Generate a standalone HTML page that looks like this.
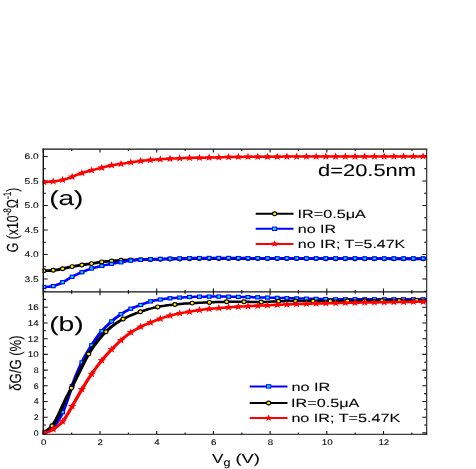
<!DOCTYPE html>
<html><head><meta charset="utf-8"><title>chart</title>
<style>html,body{margin:0;padding:0;background:#fff}body{width:476px;height:469px;overflow:hidden;font-family:"Liberation Sans",sans-serif}</style></head>
<body>
<svg width="476" height="469" viewBox="0 0 476 469" style="display:block">
<rect width="476" height="469" fill="#fff"/>
<defs><clipPath id="ca"><rect x="42.5" y="149.2" width="385.0" height="142.60000000000002"/></clipPath><clipPath id="cb"><rect x="42.5" y="291.8" width="385.0" height="143.0"/></clipPath></defs>
<path d="M43.3,149.2V152.6M43.3,288.4V295.2M43.3,430.9V434.3M71.7,149.2V151.1M71.7,289.9V293.7M71.7,432.4V434.3M100.0,149.2V152.6M100.0,288.4V295.2M100.0,430.9V434.3M128.4,149.2V151.1M128.4,289.9V293.7M128.4,432.4V434.3M156.7,149.2V152.6M156.7,288.4V295.2M156.7,430.9V434.3M185.1,149.2V151.1M185.1,289.9V293.7M185.1,432.4V434.3M213.4,149.2V152.6M213.4,288.4V295.2M213.4,430.9V434.3M241.8,149.2V151.1M241.8,289.9V293.7M241.8,432.4V434.3M270.1,149.2V152.6M270.1,288.4V295.2M270.1,430.9V434.3M298.4,149.2V151.1M298.4,289.9V293.7M298.4,432.4V434.3M326.8,149.2V152.6M326.8,288.4V295.2M326.8,430.9V434.3M355.2,149.2V151.1M355.2,289.9V293.7M355.2,432.4V434.3M383.5,149.2V152.6M383.5,288.4V295.2M383.5,430.9V434.3M411.9,149.2V151.1M411.9,289.9V293.7M411.9,432.4V434.3M43.3,291.2H45.9M424.1,291.2H426.7M43.3,279.0H47.7M422.3,279.0H426.7M43.3,266.8H45.9M424.1,266.8H426.7M43.3,254.5H47.7M422.3,254.5H426.7M43.3,242.2H45.9M424.1,242.2H426.7M43.3,230.0H47.7M422.3,230.0H426.7M43.3,217.8H45.9M424.1,217.8H426.7M43.3,205.5H47.7M422.3,205.5H426.7M43.3,193.2H45.9M424.1,193.2H426.7M43.3,181.0H47.7M422.3,181.0H426.7M43.3,168.8H45.9M424.1,168.8H426.7M43.3,156.5H47.7M422.3,156.5H426.7M43.3,432.9H47.7M422.3,432.9H426.7M43.3,425.0H45.9M424.1,425.0H426.7M43.3,417.2H47.7M422.3,417.2H426.7M43.3,409.3H45.9M424.1,409.3H426.7M43.3,401.5H47.7M422.3,401.5H426.7M43.3,393.6H45.9M424.1,393.6H426.7M43.3,385.8H47.7M422.3,385.8H426.7M43.3,377.9H45.9M424.1,377.9H426.7M43.3,370.1H47.7M422.3,370.1H426.7M43.3,362.2H45.9M424.1,362.2H426.7M43.3,354.4H47.7M422.3,354.4H426.7M43.3,346.5H45.9M424.1,346.5H426.7M43.3,338.7H47.7M422.3,338.7H426.7M43.3,330.8H45.9M424.1,330.8H426.7M43.3,323.0H47.7M422.3,323.0H426.7M43.3,315.1H45.9M424.1,315.1H426.7M43.3,307.3H47.7M422.3,307.3H426.7M43.3,299.4H45.9M424.1,299.4H426.7" stroke="#111" stroke-width="1.1" fill="none"/>
<g clip-path="url(#ca)">
<path transform="scale(1.4,1)" d="M30.93,270.8 L31.64,270.8 L32.36,270.8 L33.07,270.7 L33.79,270.7 L34.50,270.7 L35.21,270.6 L35.93,270.5 L36.64,270.5 L37.36,270.4 L38.07,270.3 L38.79,270.2 L39.50,270.1 L40.21,269.9 L40.93,269.8 L41.64,269.6 L42.36,269.4 L43.07,269.2 L43.79,269.0 L44.50,268.8 L45.21,268.6 L45.93,268.3 L46.64,268.1 L47.36,267.9 L48.07,267.7 L48.79,267.4 L49.50,267.2 L50.21,267.0 L50.93,266.8 L51.64,266.6 L52.36,266.4 L53.07,266.2 L53.79,266.1 L54.50,265.9 L55.21,265.7 L55.93,265.6 L56.64,265.4 L57.36,265.3 L58.07,265.1 L58.79,265.0 L59.50,264.8 L60.21,264.7 L60.93,264.5 L61.64,264.4 L62.36,264.2 L63.07,264.1 L63.79,264.0 L64.50,263.8 L65.21,263.7 L65.93,263.5 L66.64,263.3 L67.36,263.2 L68.07,263.0 L68.79,262.8 L69.50,262.6 L70.21,262.4 L70.93,262.3 L71.64,262.1 L72.36,262.0 L73.07,261.8 L73.79,261.7 L74.50,261.6 L75.21,261.5 L75.93,261.4 L76.64,261.3 L77.36,261.3 L78.07,261.2 L78.79,261.1 L79.50,261.0 L80.21,261.0 L80.93,260.9 L81.64,260.8 L82.36,260.7 L83.07,260.7 L83.79,260.6 L84.50,260.5 L85.21,260.4 L85.93,260.4 L86.64,260.3 L87.36,260.3 L88.07,260.2 L88.79,260.2 L89.50,260.1 L90.21,260.1 L90.93,260.1 L91.64,260.0 L92.36,260.0 L93.07,259.9 L93.79,259.9 L94.50,259.9 L95.21,259.8 L95.93,259.8 L96.64,259.8 L97.36,259.7 L98.07,259.7 L98.79,259.7 L99.50,259.7 L100.21,259.6 L100.93,259.6 L101.64,259.6 L102.36,259.5 L103.07,259.5 L103.79,259.5 L104.50,259.5 L105.21,259.5 L105.93,259.4 L106.64,259.4 L107.36,259.4 L108.07,259.4 L108.79,259.4 L109.50,259.3 L110.21,259.3 L110.93,259.3 L111.64,259.3 L112.36,259.3 L113.07,259.3 L113.79,259.2 L114.50,259.2 L115.21,259.2 L115.93,259.2 L116.64,259.2 L117.36,259.2 L118.07,259.1 L118.79,259.1 L119.50,259.1 L120.21,259.1 L120.93,259.1 L121.64,259.0 L122.36,259.0 L123.07,259.0 L123.79,259.0 L124.50,259.0 L125.21,258.9 L125.93,258.9 L126.64,258.9 L127.36,258.9 L128.07,258.9 L128.79,258.8 L129.50,258.8 L130.21,258.8 L130.93,258.8 L131.64,258.8 L132.36,258.8 L133.07,258.7 L133.79,258.7 L134.50,258.7 L135.21,258.7 L135.93,258.7 L136.64,258.7 L137.36,258.6 L138.07,258.6 L138.79,258.6 L139.50,258.6 L140.21,258.6 L140.93,258.6 L141.64,258.6 L142.36,258.6 L143.07,258.5 L143.79,258.5 L144.50,258.5 L145.21,258.5 L145.93,258.5 L146.64,258.5 L147.36,258.5 L148.07,258.5 L148.79,258.5 L149.50,258.5 L150.21,258.5 L150.93,258.5 L151.64,258.5 L152.36,258.5 L153.07,258.5 L153.79,258.5 L154.50,258.5 L155.21,258.5 L155.93,258.5 L156.64,258.5 L157.36,258.5 L158.07,258.5 L158.79,258.5 L159.50,258.5 L160.21,258.5 L160.93,258.5 L161.64,258.5 L162.36,258.5 L163.07,258.5 L163.79,258.5 L164.50,258.5 L165.21,258.5 L165.93,258.5 L166.64,258.5 L167.36,258.5 L168.07,258.5 L168.79,258.5 L169.50,258.5 L170.21,258.5 L170.93,258.5 L171.64,258.5 L172.36,258.5 L173.07,258.5 L173.79,258.5 L174.50,258.5 L175.21,258.5 L175.93,258.5 L176.64,258.5 L177.36,258.5 L178.07,258.5 L178.79,258.5 L179.50,258.6 L180.21,258.6 L180.93,258.6 L181.64,258.6 L182.36,258.6 L183.07,258.6 L183.79,258.6 L184.50,258.6 L185.21,258.6 L185.93,258.6 L186.64,258.6 L187.36,258.6 L188.07,258.6 L188.79,258.6 L189.50,258.6 L190.21,258.6 L190.93,258.6 L191.64,258.6 L192.36,258.6 L193.07,258.6 L193.79,258.6 L194.50,258.6 L195.21,258.6 L195.93,258.6 L196.64,258.6 L197.36,258.6 L198.07,258.6 L198.79,258.6 L199.50,258.6 L200.21,258.6 L200.93,258.6 L201.64,258.6 L202.36,258.6 L203.07,258.6 L203.79,258.6 L204.50,258.6 L205.21,258.6 L205.93,258.6 L206.64,258.6 L207.36,258.6 L208.07,258.6 L208.79,258.6 L209.50,258.6 L210.21,258.6 L210.93,258.6 L211.64,258.6 L212.36,258.6 L213.07,258.6 L213.79,258.6 L214.50,258.6 L215.21,258.6 L215.93,258.6 L216.64,258.6 L217.36,258.6 L218.07,258.6 L218.79,258.6 L219.50,258.6 L220.21,258.6 L220.93,258.6 L221.64,258.6 L222.36,258.6 L223.07,258.6 L223.79,258.6 L224.50,258.6 L225.21,258.6 L225.93,258.7 L226.64,258.7 L227.36,258.7 L228.07,258.7 L228.79,258.7 L229.50,258.7 L230.21,258.7 L230.93,258.7 L231.64,258.7 L232.36,258.7 L233.07,258.7 L233.79,258.7 L234.50,258.7 L235.21,258.7 L235.93,258.7 L236.64,258.7 L237.36,258.7 L238.07,258.7 L238.79,258.7 L239.50,258.7 L240.21,258.7 L240.93,258.7 L241.64,258.7 L242.36,258.7 L243.07,258.7 L243.79,258.7 L244.50,258.7 L245.21,258.7 L245.93,258.7 L246.64,258.7 L247.36,258.7 L248.07,258.7 L248.79,258.7 L249.50,258.7 L250.21,258.7 L250.93,258.7 L251.64,258.7 L252.36,258.7 L253.07,258.7 L253.79,258.7 L254.50,258.7 L255.21,258.7 L255.93,258.7 L256.64,258.7 L257.36,258.7 L258.07,258.7 L258.79,258.7 L259.50,258.7 L260.21,258.7 L260.93,258.7 L261.64,258.7 L262.36,258.7 L263.07,258.7 L263.79,258.7 L264.50,258.7 L265.21,258.7 L265.93,258.7 L266.64,258.7 L267.36,258.7 L268.07,258.7 L268.79,258.7 L269.50,258.7 L270.21,258.7 L270.93,258.7 L271.64,258.7 L272.36,258.7 L273.07,258.7 L273.79,258.7 L274.50,258.7 L275.21,258.7 L275.93,258.7 L276.64,258.7 L277.36,258.7 L278.07,258.7 L278.79,258.8 L279.50,258.8 L280.21,258.8 L280.93,258.8 L281.64,258.8 L282.36,258.8 L283.07,258.8 L283.79,258.8 L284.50,258.8 L285.21,258.8 L285.93,258.8 L286.64,258.8 L287.36,258.8 L288.07,258.8 L288.79,258.8 L289.50,258.8 L290.21,258.8 L290.93,258.8 L291.64,258.8 L292.36,258.8 L293.07,258.8 L293.79,258.8 L294.50,258.8 L295.21,258.8 L295.93,258.8 L296.64,258.8 L297.36,258.8 L298.07,258.8 L298.79,258.8 L299.50,258.8 L300.21,258.8 L300.93,258.8 L301.64,258.8 L302.36,258.8 L303.07,258.8 L303.79,258.8 L304.50,258.8 L304.86,258.8" fill="none" stroke="#000" stroke-width="2.8" stroke-linejoin="round"/>
<ellipse cx="43.8" cy="270.8" rx="2.1" ry="1.9" fill="#ffee00" stroke="#000" stroke-width="1.15"/>
<ellipse cx="53.2" cy="270.3" rx="2.1" ry="1.9" fill="#ffee00" stroke="#000" stroke-width="1.15"/>
<ellipse cx="62.6" cy="268.7" rx="2.1" ry="1.9" fill="#ffee00" stroke="#000" stroke-width="1.15"/>
<ellipse cx="72.1" cy="266.6" rx="2.1" ry="1.9" fill="#ffee00" stroke="#000" stroke-width="1.15"/>
<ellipse cx="81.9" cy="265.0" rx="2.1" ry="1.9" fill="#ffee00" stroke="#000" stroke-width="1.15"/>
<ellipse cx="91.6" cy="263.6" rx="2.1" ry="1.9" fill="#ffee00" stroke="#000" stroke-width="1.15"/>
<ellipse cx="101.8" cy="261.9" rx="2.1" ry="1.9" fill="#ffee00" stroke="#000" stroke-width="1.15"/>
<ellipse cx="111.6" cy="261.0" rx="2.1" ry="1.9" fill="#ffee00" stroke="#000" stroke-width="1.15"/>
<ellipse cx="121.0" cy="260.3" rx="2.1" ry="1.9" fill="#ffee00" stroke="#000" stroke-width="1.15"/>
<ellipse cx="130.8" cy="259.9" rx="2.1" ry="1.9" fill="#ffee00" stroke="#000" stroke-width="1.15"/>
<ellipse cx="140.7" cy="259.6" rx="2.1" ry="1.9" fill="#ffee00" stroke="#000" stroke-width="1.15"/>
<ellipse cx="150.5" cy="259.4" rx="2.1" ry="1.9" fill="#ffee00" stroke="#000" stroke-width="1.15"/>
<ellipse cx="160.3" cy="259.2" rx="2.1" ry="1.9" fill="#ffee00" stroke="#000" stroke-width="1.15"/>
<ellipse cx="170.0" cy="259.0" rx="2.1" ry="1.9" fill="#ffee00" stroke="#000" stroke-width="1.15"/>
<ellipse cx="179.7" cy="258.9" rx="2.1" ry="1.9" fill="#ffee00" stroke="#000" stroke-width="1.15"/>
<ellipse cx="189.5" cy="258.7" rx="2.1" ry="1.9" fill="#ffee00" stroke="#000" stroke-width="1.15"/>
<ellipse cx="199.4" cy="258.6" rx="2.1" ry="1.9" fill="#ffee00" stroke="#000" stroke-width="1.15"/>
<ellipse cx="209.1" cy="258.5" rx="2.1" ry="1.9" fill="#ffee00" stroke="#000" stroke-width="1.15"/>
<ellipse cx="218.8" cy="258.5" rx="2.1" ry="1.9" fill="#ffee00" stroke="#000" stroke-width="1.15"/>
<ellipse cx="228.6" cy="258.5" rx="2.1" ry="1.9" fill="#ffee00" stroke="#000" stroke-width="1.15"/>
<ellipse cx="238.3" cy="258.5" rx="2.1" ry="1.9" fill="#ffee00" stroke="#000" stroke-width="1.15"/>
<ellipse cx="248.0" cy="258.5" rx="2.1" ry="1.9" fill="#ffee00" stroke="#000" stroke-width="1.15"/>
<ellipse cx="257.8" cy="258.6" rx="2.1" ry="1.9" fill="#ffee00" stroke="#000" stroke-width="1.15"/>
<ellipse cx="267.5" cy="258.6" rx="2.1" ry="1.9" fill="#ffee00" stroke="#000" stroke-width="1.15"/>
<ellipse cx="277.2" cy="258.6" rx="2.1" ry="1.9" fill="#ffee00" stroke="#000" stroke-width="1.15"/>
<ellipse cx="286.9" cy="258.6" rx="2.1" ry="1.9" fill="#ffee00" stroke="#000" stroke-width="1.15"/>
<ellipse cx="296.6" cy="258.6" rx="2.1" ry="1.9" fill="#ffee00" stroke="#000" stroke-width="1.15"/>
<ellipse cx="306.4" cy="258.6" rx="2.1" ry="1.9" fill="#ffee00" stroke="#000" stroke-width="1.15"/>
<ellipse cx="316.1" cy="258.6" rx="2.1" ry="1.9" fill="#ffee00" stroke="#000" stroke-width="1.15"/>
<ellipse cx="325.8" cy="258.7" rx="2.1" ry="1.9" fill="#ffee00" stroke="#000" stroke-width="1.15"/>
<ellipse cx="335.6" cy="258.7" rx="2.1" ry="1.9" fill="#ffee00" stroke="#000" stroke-width="1.15"/>
<ellipse cx="345.3" cy="258.7" rx="2.1" ry="1.9" fill="#ffee00" stroke="#000" stroke-width="1.15"/>
<ellipse cx="355.0" cy="258.7" rx="2.1" ry="1.9" fill="#ffee00" stroke="#000" stroke-width="1.15"/>
<ellipse cx="364.7" cy="258.7" rx="2.1" ry="1.9" fill="#ffee00" stroke="#000" stroke-width="1.15"/>
<ellipse cx="374.4" cy="258.7" rx="2.1" ry="1.9" fill="#ffee00" stroke="#000" stroke-width="1.15"/>
<ellipse cx="384.2" cy="258.7" rx="2.1" ry="1.9" fill="#ffee00" stroke="#000" stroke-width="1.15"/>
<ellipse cx="393.9" cy="258.8" rx="2.1" ry="1.9" fill="#ffee00" stroke="#000" stroke-width="1.15"/>
<ellipse cx="403.6" cy="258.8" rx="2.1" ry="1.9" fill="#ffee00" stroke="#000" stroke-width="1.15"/>
<ellipse cx="413.4" cy="258.8" rx="2.1" ry="1.9" fill="#ffee00" stroke="#000" stroke-width="1.15"/>
<ellipse cx="423.1" cy="258.8" rx="2.1" ry="1.9" fill="#ffee00" stroke="#000" stroke-width="1.15"/>
<path transform="scale(1.4,1)" d="M30.93,287.0 L31.64,287.0 L32.36,286.9 L33.07,286.9 L33.79,286.8 L34.50,286.7 L35.21,286.7 L35.93,286.5 L36.64,286.4 L37.36,286.2 L38.07,286.0 L38.79,285.8 L39.50,285.5 L40.21,285.1 L40.93,284.7 L41.64,284.3 L42.36,283.9 L43.07,283.4 L43.79,282.9 L44.50,282.4 L45.21,281.9 L45.93,281.3 L46.64,280.7 L47.36,280.2 L48.07,279.6 L48.79,279.0 L49.50,278.4 L50.21,277.8 L50.93,277.3 L51.64,276.7 L52.36,276.2 L53.07,275.7 L53.79,275.2 L54.50,274.7 L55.21,274.3 L55.93,273.8 L56.64,273.3 L57.36,272.9 L58.07,272.5 L58.79,272.0 L59.50,271.6 L60.21,271.2 L60.93,270.8 L61.64,270.4 L62.36,270.0 L63.07,269.6 L63.79,269.3 L64.50,268.9 L65.21,268.6 L65.93,268.3 L66.64,268.0 L67.36,267.7 L68.07,267.5 L68.79,267.2 L69.50,267.0 L70.21,266.7 L70.93,266.5 L71.64,266.2 L72.36,266.0 L73.07,265.8 L73.79,265.6 L74.50,265.3 L75.21,265.1 L75.93,264.9 L76.64,264.7 L77.36,264.5 L78.07,264.3 L78.79,264.1 L79.50,263.9 L80.21,263.8 L80.93,263.6 L81.64,263.4 L82.36,263.2 L83.07,263.1 L83.79,262.9 L84.50,262.7 L85.21,262.6 L85.93,262.4 L86.64,262.2 L87.36,262.0 L88.07,261.9 L88.79,261.7 L89.50,261.5 L90.21,261.3 L90.93,261.1 L91.64,261.0 L92.36,260.8 L93.07,260.7 L93.79,260.6 L94.50,260.4 L95.21,260.3 L95.93,260.2 L96.64,260.2 L97.36,260.1 L98.07,260.0 L98.79,259.9 L99.50,259.9 L100.21,259.8 L100.93,259.7 L101.64,259.7 L102.36,259.6 L103.07,259.6 L103.79,259.5 L104.50,259.5 L105.21,259.4 L105.93,259.4 L106.64,259.3 L107.36,259.3 L108.07,259.3 L108.79,259.2 L109.50,259.2 L110.21,259.1 L110.93,259.1 L111.64,259.1 L112.36,259.0 L113.07,259.0 L113.79,259.0 L114.50,258.9 L115.21,258.9 L115.93,258.9 L116.64,258.9 L117.36,258.8 L118.07,258.8 L118.79,258.8 L119.50,258.7 L120.21,258.7 L120.93,258.7 L121.64,258.7 L122.36,258.6 L123.07,258.6 L123.79,258.6 L124.50,258.6 L125.21,258.5 L125.93,258.5 L126.64,258.5 L127.36,258.5 L128.07,258.4 L128.79,258.4 L129.50,258.4 L130.21,258.4 L130.93,258.3 L131.64,258.3 L132.36,258.3 L133.07,258.3 L133.79,258.3 L134.50,258.2 L135.21,258.2 L135.93,258.2 L136.64,258.2 L137.36,258.2 L138.07,258.1 L138.79,258.1 L139.50,258.1 L140.21,258.1 L140.93,258.1 L141.64,258.1 L142.36,258.1 L143.07,258.0 L143.79,258.0 L144.50,258.0 L145.21,258.0 L145.93,258.0 L146.64,258.0 L147.36,258.0 L148.07,258.0 L148.79,258.0 L149.50,258.0 L150.21,258.0 L150.93,258.0 L151.64,258.0 L152.36,258.0 L153.07,258.0 L153.79,258.0 L154.50,258.0 L155.21,258.0 L155.93,258.0 L156.64,258.0 L157.36,258.0 L158.07,258.0 L158.79,258.0 L159.50,258.0 L160.21,258.0 L160.93,258.0 L161.64,258.0 L162.36,258.0 L163.07,258.0 L163.79,258.1 L164.50,258.1 L165.21,258.1 L165.93,258.1 L166.64,258.1 L167.36,258.1 L168.07,258.1 L168.79,258.1 L169.50,258.1 L170.21,258.1 L170.93,258.1 L171.64,258.1 L172.36,258.1 L173.07,258.1 L173.79,258.1 L174.50,258.1 L175.21,258.1 L175.93,258.1 L176.64,258.1 L177.36,258.2 L178.07,258.2 L178.79,258.2 L179.50,258.2 L180.21,258.2 L180.93,258.2 L181.64,258.2 L182.36,258.2 L183.07,258.2 L183.79,258.2 L184.50,258.2 L185.21,258.2 L185.93,258.2 L186.64,258.2 L187.36,258.2 L188.07,258.2 L188.79,258.2 L189.50,258.2 L190.21,258.3 L190.93,258.3 L191.64,258.3 L192.36,258.3 L193.07,258.3 L193.79,258.3 L194.50,258.3 L195.21,258.3 L195.93,258.3 L196.64,258.3 L197.36,258.3 L198.07,258.3 L198.79,258.3 L199.50,258.3 L200.21,258.3 L200.93,258.3 L201.64,258.3 L202.36,258.3 L203.07,258.3 L203.79,258.3 L204.50,258.3 L205.21,258.3 L205.93,258.3 L206.64,258.3 L207.36,258.3 L208.07,258.3 L208.79,258.3 L209.50,258.3 L210.21,258.3 L210.93,258.3 L211.64,258.3 L212.36,258.3 L213.07,258.3 L213.79,258.3 L214.50,258.3 L215.21,258.3 L215.93,258.3 L216.64,258.3 L217.36,258.4 L218.07,258.4 L218.79,258.4 L219.50,258.4 L220.21,258.4 L220.93,258.4 L221.64,258.4 L222.36,258.4 L223.07,258.4 L223.79,258.4 L224.50,258.4 L225.21,258.4 L225.93,258.4 L226.64,258.4 L227.36,258.4 L228.07,258.4 L228.79,258.4 L229.50,258.4 L230.21,258.4 L230.93,258.4 L231.64,258.4 L232.36,258.4 L233.07,258.4 L233.79,258.4 L234.50,258.4 L235.21,258.4 L235.93,258.4 L236.64,258.4 L237.36,258.4 L238.07,258.4 L238.79,258.4 L239.50,258.4 L240.21,258.4 L240.93,258.4 L241.64,258.4 L242.36,258.4 L243.07,258.4 L243.79,258.4 L244.50,258.4 L245.21,258.4 L245.93,258.4 L246.64,258.4 L247.36,258.4 L248.07,258.4 L248.79,258.4 L249.50,258.4 L250.21,258.4 L250.93,258.4 L251.64,258.4 L252.36,258.4 L253.07,258.4 L253.79,258.4 L254.50,258.4 L255.21,258.4 L255.93,258.4 L256.64,258.4 L257.36,258.5 L258.07,258.5 L258.79,258.5 L259.50,258.5 L260.21,258.5 L260.93,258.5 L261.64,258.5 L262.36,258.5 L263.07,258.5 L263.79,258.5 L264.50,258.5 L265.21,258.5 L265.93,258.5 L266.64,258.5 L267.36,258.5 L268.07,258.5 L268.79,258.5 L269.50,258.5 L270.21,258.5 L270.93,258.5 L271.64,258.5 L272.36,258.5 L273.07,258.5 L273.79,258.5 L274.50,258.5 L275.21,258.5 L275.93,258.5 L276.64,258.5 L277.36,258.5 L278.07,258.5 L278.79,258.5 L279.50,258.5 L280.21,258.5 L280.93,258.5 L281.64,258.5 L282.36,258.5 L283.07,258.5 L283.79,258.5 L284.50,258.5 L285.21,258.5 L285.93,258.5 L286.64,258.5 L287.36,258.5 L288.07,258.5 L288.79,258.5 L289.50,258.5 L290.21,258.5 L290.93,258.5 L291.64,258.5 L292.36,258.5 L293.07,258.5 L293.79,258.5 L294.50,258.5 L295.21,258.5 L295.93,258.5 L296.64,258.5 L297.36,258.5 L298.07,258.5 L298.79,258.5 L299.50,258.5 L300.21,258.5 L300.93,258.5 L301.64,258.5 L302.36,258.5 L303.07,258.5 L303.79,258.5 L304.50,258.5 L304.86,258.5" fill="none" stroke="#0000ff" stroke-width="2.5" stroke-linejoin="round"/>
<rect x="41.9" y="285.4" width="3.8" height="3.2" fill="#00e5ff" stroke="#0000ff" stroke-width="1.1"/>
<rect x="51.3" y="284.5" width="3.8" height="3.2" fill="#00e5ff" stroke="#0000ff" stroke-width="1.1"/>
<rect x="60.7" y="280.6" width="3.8" height="3.2" fill="#00e5ff" stroke="#0000ff" stroke-width="1.1"/>
<rect x="70.2" y="275.2" width="3.8" height="3.2" fill="#00e5ff" stroke="#0000ff" stroke-width="1.1"/>
<rect x="80.0" y="270.6" width="3.8" height="3.2" fill="#00e5ff" stroke="#0000ff" stroke-width="1.1"/>
<rect x="89.7" y="266.9" width="3.8" height="3.2" fill="#00e5ff" stroke="#0000ff" stroke-width="1.1"/>
<rect x="99.9" y="264.3" width="3.8" height="3.2" fill="#00e5ff" stroke="#0000ff" stroke-width="1.1"/>
<rect x="109.7" y="262.3" width="3.8" height="3.2" fill="#00e5ff" stroke="#0000ff" stroke-width="1.1"/>
<rect x="119.1" y="260.7" width="3.8" height="3.2" fill="#00e5ff" stroke="#0000ff" stroke-width="1.1"/>
<rect x="128.9" y="259.0" width="3.8" height="3.2" fill="#00e5ff" stroke="#0000ff" stroke-width="1.1"/>
<rect x="138.8" y="258.2" width="3.8" height="3.2" fill="#00e5ff" stroke="#0000ff" stroke-width="1.1"/>
<rect x="148.6" y="257.7" width="3.8" height="3.2" fill="#00e5ff" stroke="#0000ff" stroke-width="1.1"/>
<rect x="158.4" y="257.3" width="3.8" height="3.2" fill="#00e5ff" stroke="#0000ff" stroke-width="1.1"/>
<rect x="168.1" y="257.1" width="3.8" height="3.2" fill="#00e5ff" stroke="#0000ff" stroke-width="1.1"/>
<rect x="177.8" y="256.8" width="3.8" height="3.2" fill="#00e5ff" stroke="#0000ff" stroke-width="1.1"/>
<rect x="187.6" y="256.6" width="3.8" height="3.2" fill="#00e5ff" stroke="#0000ff" stroke-width="1.1"/>
<rect x="197.5" y="256.5" width="3.8" height="3.2" fill="#00e5ff" stroke="#0000ff" stroke-width="1.1"/>
<rect x="207.2" y="256.4" width="3.8" height="3.2" fill="#00e5ff" stroke="#0000ff" stroke-width="1.1"/>
<rect x="216.9" y="256.4" width="3.8" height="3.2" fill="#00e5ff" stroke="#0000ff" stroke-width="1.1"/>
<rect x="226.7" y="256.4" width="3.8" height="3.2" fill="#00e5ff" stroke="#0000ff" stroke-width="1.1"/>
<rect x="236.4" y="256.5" width="3.8" height="3.2" fill="#00e5ff" stroke="#0000ff" stroke-width="1.1"/>
<rect x="246.1" y="256.6" width="3.8" height="3.2" fill="#00e5ff" stroke="#0000ff" stroke-width="1.1"/>
<rect x="255.8" y="256.6" width="3.8" height="3.2" fill="#00e5ff" stroke="#0000ff" stroke-width="1.1"/>
<rect x="265.6" y="256.7" width="3.8" height="3.2" fill="#00e5ff" stroke="#0000ff" stroke-width="1.1"/>
<rect x="275.3" y="256.7" width="3.8" height="3.2" fill="#00e5ff" stroke="#0000ff" stroke-width="1.1"/>
<rect x="285.0" y="256.7" width="3.8" height="3.2" fill="#00e5ff" stroke="#0000ff" stroke-width="1.1"/>
<rect x="294.8" y="256.7" width="3.8" height="3.2" fill="#00e5ff" stroke="#0000ff" stroke-width="1.1"/>
<rect x="304.5" y="256.8" width="3.8" height="3.2" fill="#00e5ff" stroke="#0000ff" stroke-width="1.1"/>
<rect x="314.2" y="256.8" width="3.8" height="3.2" fill="#00e5ff" stroke="#0000ff" stroke-width="1.1"/>
<rect x="323.9" y="256.8" width="3.8" height="3.2" fill="#00e5ff" stroke="#0000ff" stroke-width="1.1"/>
<rect x="333.7" y="256.8" width="3.8" height="3.2" fill="#00e5ff" stroke="#0000ff" stroke-width="1.1"/>
<rect x="343.4" y="256.8" width="3.8" height="3.2" fill="#00e5ff" stroke="#0000ff" stroke-width="1.1"/>
<rect x="353.1" y="256.8" width="3.8" height="3.2" fill="#00e5ff" stroke="#0000ff" stroke-width="1.1"/>
<rect x="362.8" y="256.9" width="3.8" height="3.2" fill="#00e5ff" stroke="#0000ff" stroke-width="1.1"/>
<rect x="372.6" y="256.9" width="3.8" height="3.2" fill="#00e5ff" stroke="#0000ff" stroke-width="1.1"/>
<rect x="382.3" y="256.9" width="3.8" height="3.2" fill="#00e5ff" stroke="#0000ff" stroke-width="1.1"/>
<rect x="392.0" y="256.9" width="3.8" height="3.2" fill="#00e5ff" stroke="#0000ff" stroke-width="1.1"/>
<rect x="401.7" y="256.9" width="3.8" height="3.2" fill="#00e5ff" stroke="#0000ff" stroke-width="1.1"/>
<rect x="411.5" y="256.9" width="3.8" height="3.2" fill="#00e5ff" stroke="#0000ff" stroke-width="1.1"/>
<rect x="421.2" y="256.9" width="3.8" height="3.2" fill="#00e5ff" stroke="#0000ff" stroke-width="1.1"/>
<path transform="scale(1.4,1)" d="M30.93,182.0 L31.64,182.0 L32.36,181.9 L33.07,181.9 L33.79,181.9 L34.50,181.8 L35.21,181.8 L35.93,181.7 L36.64,181.6 L37.36,181.5 L38.07,181.4 L38.79,181.3 L39.50,181.2 L40.21,181.1 L40.93,181.0 L41.64,180.8 L42.36,180.6 L43.07,180.4 L43.79,180.2 L44.50,180.0 L45.21,179.8 L45.93,179.5 L46.64,179.2 L47.36,178.9 L48.07,178.6 L48.79,178.2 L49.50,177.9 L50.21,177.5 L50.93,177.1 L51.64,176.7 L52.36,176.3 L53.07,175.9 L53.79,175.5 L54.50,175.1 L55.21,174.7 L55.93,174.4 L56.64,174.0 L57.36,173.6 L58.07,173.3 L58.79,172.9 L59.50,172.6 L60.21,172.3 L60.93,172.0 L61.64,171.8 L62.36,171.5 L63.07,171.2 L63.79,171.0 L64.50,170.7 L65.21,170.4 L65.93,170.2 L66.64,169.9 L67.36,169.6 L68.07,169.4 L68.79,169.1 L69.50,168.8 L70.21,168.6 L70.93,168.3 L71.64,168.1 L72.36,167.8 L73.07,167.5 L73.79,167.3 L74.50,167.0 L75.21,166.7 L75.93,166.5 L76.64,166.2 L77.36,166.0 L78.07,165.8 L78.79,165.6 L79.50,165.4 L80.21,165.2 L80.93,165.0 L81.64,164.9 L82.36,164.7 L83.07,164.6 L83.79,164.5 L84.50,164.3 L85.21,164.2 L85.93,164.1 L86.64,163.9 L87.36,163.8 L88.07,163.6 L88.79,163.4 L89.50,163.3 L90.21,163.1 L90.93,162.9 L91.64,162.8 L92.36,162.6 L93.07,162.4 L93.79,162.3 L94.50,162.1 L95.21,162.0 L95.93,161.8 L96.64,161.7 L97.36,161.6 L98.07,161.4 L98.79,161.3 L99.50,161.2 L100.21,161.0 L100.93,160.9 L101.64,160.8 L102.36,160.7 L103.07,160.6 L103.79,160.5 L104.50,160.4 L105.21,160.3 L105.93,160.2 L106.64,160.1 L107.36,160.0 L108.07,159.9 L108.79,159.8 L109.50,159.8 L110.21,159.7 L110.93,159.6 L111.64,159.5 L112.36,159.5 L113.07,159.4 L113.79,159.3 L114.50,159.3 L115.21,159.2 L115.93,159.1 L116.64,159.1 L117.36,159.0 L118.07,158.9 L118.79,158.9 L119.50,158.8 L120.21,158.8 L120.93,158.7 L121.64,158.7 L122.36,158.6 L123.07,158.6 L123.79,158.5 L124.50,158.5 L125.21,158.4 L125.93,158.4 L126.64,158.3 L127.36,158.3 L128.07,158.3 L128.79,158.2 L129.50,158.2 L130.21,158.2 L130.93,158.1 L131.64,158.1 L132.36,158.1 L133.07,158.0 L133.79,158.0 L134.50,158.0 L135.21,157.9 L135.93,157.9 L136.64,157.9 L137.36,157.9 L138.07,157.9 L138.79,157.8 L139.50,157.8 L140.21,157.8 L140.93,157.8 L141.64,157.8 L142.36,157.8 L143.07,157.7 L143.79,157.7 L144.50,157.7 L145.21,157.7 L145.93,157.7 L146.64,157.7 L147.36,157.6 L148.07,157.6 L148.79,157.6 L149.50,157.6 L150.21,157.5 L150.93,157.5 L151.64,157.5 L152.36,157.5 L153.07,157.4 L153.79,157.4 L154.50,157.4 L155.21,157.4 L155.93,157.3 L156.64,157.3 L157.36,157.3 L158.07,157.2 L158.79,157.2 L159.50,157.2 L160.21,157.2 L160.93,157.1 L161.64,157.1 L162.36,157.1 L163.07,157.1 L163.79,157.0 L164.50,157.0 L165.21,157.0 L165.93,157.0 L166.64,157.0 L167.36,156.9 L168.07,156.9 L168.79,156.9 L169.50,156.9 L170.21,156.9 L170.93,156.9 L171.64,156.9 L172.36,156.9 L173.07,156.9 L173.79,156.9 L174.50,156.8 L175.21,156.8 L175.93,156.8 L176.64,156.8 L177.36,156.8 L178.07,156.8 L178.79,156.8 L179.50,156.8 L180.21,156.8 L180.93,156.8 L181.64,156.8 L182.36,156.8 L183.07,156.8 L183.79,156.8 L184.50,156.8 L185.21,156.7 L185.93,156.7 L186.64,156.7 L187.36,156.7 L188.07,156.7 L188.79,156.7 L189.50,156.7 L190.21,156.7 L190.93,156.7 L191.64,156.7 L192.36,156.7 L193.07,156.7 L193.79,156.7 L194.50,156.7 L195.21,156.7 L195.93,156.7 L196.64,156.7 L197.36,156.7 L198.07,156.7 L198.79,156.7 L199.50,156.7 L200.21,156.7 L200.93,156.7 L201.64,156.7 L202.36,156.6 L203.07,156.6 L203.79,156.6 L204.50,156.6 L205.21,156.6 L205.93,156.6 L206.64,156.6 L207.36,156.6 L208.07,156.6 L208.79,156.6 L209.50,156.6 L210.21,156.6 L210.93,156.6 L211.64,156.6 L212.36,156.6 L213.07,156.6 L213.79,156.6 L214.50,156.6 L215.21,156.6 L215.93,156.6 L216.64,156.6 L217.36,156.6 L218.07,156.6 L218.79,156.6 L219.50,156.6 L220.21,156.6 L220.93,156.6 L221.64,156.6 L222.36,156.6 L223.07,156.6 L223.79,156.6 L224.50,156.6 L225.21,156.6 L225.93,156.6 L226.64,156.6 L227.36,156.6 L228.07,156.6 L228.79,156.6 L229.50,156.5 L230.21,156.5 L230.93,156.5 L231.64,156.5 L232.36,156.5 L233.07,156.5 L233.79,156.5 L234.50,156.5 L235.21,156.5 L235.93,156.5 L236.64,156.5 L237.36,156.5 L238.07,156.5 L238.79,156.5 L239.50,156.5 L240.21,156.5 L240.93,156.5 L241.64,156.5 L242.36,156.5 L243.07,156.5 L243.79,156.5 L244.50,156.5 L245.21,156.5 L245.93,156.5 L246.64,156.5 L247.36,156.5 L248.07,156.5 L248.79,156.5 L249.50,156.5 L250.21,156.5 L250.93,156.5 L251.64,156.5 L252.36,156.5 L253.07,156.5 L253.79,156.5 L254.50,156.5 L255.21,156.5 L255.93,156.5 L256.64,156.5 L257.36,156.5 L258.07,156.5 L258.79,156.5 L259.50,156.5 L260.21,156.5 L260.93,156.5 L261.64,156.5 L262.36,156.5 L263.07,156.5 L263.79,156.5 L264.50,156.4 L265.21,156.4 L265.93,156.4 L266.64,156.4 L267.36,156.4 L268.07,156.4 L268.79,156.4 L269.50,156.4 L270.21,156.4 L270.93,156.4 L271.64,156.4 L272.36,156.4 L273.07,156.4 L273.79,156.4 L274.50,156.4 L275.21,156.4 L275.93,156.4 L276.64,156.4 L277.36,156.4 L278.07,156.4 L278.79,156.4 L279.50,156.4 L280.21,156.4 L280.93,156.4 L281.64,156.4 L282.36,156.4 L283.07,156.4 L283.79,156.4 L284.50,156.4 L285.21,156.4 L285.93,156.4 L286.64,156.4 L287.36,156.4 L288.07,156.4 L288.79,156.4 L289.50,156.4 L290.21,156.4 L290.93,156.4 L291.64,156.4 L292.36,156.4 L293.07,156.4 L293.79,156.4 L294.50,156.4 L295.21,156.4 L295.93,156.4 L296.64,156.4 L297.36,156.4 L298.07,156.4 L298.79,156.4 L299.50,156.4 L300.21,156.4 L300.93,156.4 L301.64,156.4 L302.36,156.4 L303.07,156.4 L303.79,156.4 L304.50,156.4 L304.86,156.4" fill="none" stroke="#ff0000" stroke-width="2.5" stroke-linejoin="round"/>
<g fill="#ff0000"><polygon points="43.8,178.0 44.9,180.6 48.0,180.7 45.6,182.5 46.4,185.2 43.8,183.7 41.2,185.2 42.0,182.5 39.6,180.7 42.7,180.6"/></g>
<g fill="#ff0000"><polygon points="53.2,177.4 54.3,180.1 57.4,180.2 55.0,182.0 55.8,184.7 53.2,183.1 50.6,184.7 51.4,182.0 49.0,180.2 52.1,180.1"/></g>
<g fill="#ff0000"><polygon points="62.6,175.9 63.7,178.6 66.8,178.7 64.4,180.5 65.2,183.2 62.6,181.6 60.0,183.2 60.8,180.5 58.4,178.7 61.5,178.6"/></g>
<g fill="#ff0000"><polygon points="72.1,172.8 73.2,175.4 76.3,175.6 73.9,177.3 74.7,180.0 72.1,178.5 69.5,180.0 70.3,177.3 67.9,175.6 71.0,175.4"/></g>
<g fill="#ff0000"><polygon points="81.9,169.1 83.0,171.7 86.1,171.8 83.7,173.6 84.5,176.3 81.9,174.8 79.3,176.3 80.1,173.6 77.7,171.8 80.8,171.7"/></g>
<g fill="#ff0000"><polygon points="91.6,166.4 92.7,169.0 95.8,169.1 93.4,170.9 94.2,173.6 91.6,172.1 89.0,173.6 89.8,170.9 87.4,169.1 90.5,169.0"/></g>
<g fill="#ff0000"><polygon points="101.8,163.7 102.9,166.3 106.0,166.4 103.6,168.2 104.4,170.9 101.8,169.4 99.2,170.9 100.0,168.2 97.6,166.4 100.7,166.3"/></g>
<g fill="#ff0000"><polygon points="111.6,161.3 112.7,163.9 115.8,164.1 113.4,165.8 114.2,168.6 111.6,167.0 109.0,168.6 109.8,165.8 107.4,164.1 110.5,163.9"/></g>
<g fill="#ff0000"><polygon points="121.0,159.9 122.1,162.6 125.2,162.7 122.8,164.5 123.6,167.2 121.0,165.6 118.4,167.2 119.2,164.5 116.8,162.7 119.9,162.6"/></g>
<g fill="#ff0000"><polygon points="130.8,158.4 131.9,161.0 135.0,161.1 132.6,162.9 133.4,165.6 130.8,164.1 128.2,165.6 129.0,162.9 126.6,161.1 129.7,161.0"/></g>
<g fill="#ff0000"><polygon points="140.7,157.0 141.8,159.6 144.9,159.8 142.5,161.5 143.3,164.2 140.7,162.7 138.1,164.2 138.9,161.5 136.5,159.8 139.6,159.6"/></g>
<g fill="#ff0000"><polygon points="150.5,156.0 151.6,158.6 154.7,158.8 152.3,160.5 153.1,163.2 150.5,161.7 147.9,163.2 148.7,160.5 146.3,158.8 149.4,158.6"/></g>
<g fill="#ff0000"><polygon points="160.3,155.3 161.4,157.9 164.5,158.0 162.1,159.8 162.9,162.5 160.3,161.0 157.7,162.5 158.5,159.8 156.1,158.0 159.2,157.9"/></g>
<g fill="#ff0000"><polygon points="170.0,154.7 171.1,157.3 174.2,157.5 171.8,159.2 172.6,161.9 170.0,160.4 167.4,161.9 168.2,159.2 165.8,157.5 168.9,157.3"/></g>
<g fill="#ff0000"><polygon points="179.7,154.2 180.8,156.9 183.9,157.0 181.5,158.8 182.3,161.5 179.7,159.9 177.1,161.5 177.9,158.8 175.5,157.0 178.6,156.9"/></g>
<g fill="#ff0000"><polygon points="189.5,153.9 190.6,156.6 193.7,156.7 191.3,158.5 192.1,161.2 189.5,159.6 186.9,161.2 187.7,158.5 185.3,156.7 188.4,156.6"/></g>
<g fill="#ff0000"><polygon points="199.4,153.8 200.5,156.4 203.6,156.5 201.2,158.3 202.0,161.0 199.4,159.5 196.8,161.0 197.6,158.3 195.2,156.5 198.3,156.4"/></g>
<g fill="#ff0000"><polygon points="209.1,153.6 210.2,156.2 213.3,156.3 210.9,158.1 211.7,160.8 209.1,159.3 206.5,160.8 207.3,158.1 204.9,156.3 208.0,156.2"/></g>
<g fill="#ff0000"><polygon points="218.8,153.3 219.9,155.9 223.0,156.1 220.6,157.8 221.4,160.6 218.8,159.0 216.3,160.6 217.1,157.8 214.7,156.1 217.8,155.9"/></g>
<g fill="#ff0000"><polygon points="228.6,153.1 229.7,155.7 232.8,155.8 230.4,157.6 231.2,160.3 228.6,158.8 226.0,160.3 226.8,157.6 224.4,155.8 227.5,155.7"/></g>
<g fill="#ff0000"><polygon points="238.3,152.9 239.4,155.5 242.5,155.7 240.1,157.4 240.9,160.1 238.3,158.6 235.7,160.1 236.5,157.4 234.1,155.7 237.2,155.5"/></g>
<g fill="#ff0000"><polygon points="248.0,152.8 249.1,155.4 252.2,155.6 249.8,157.3 250.6,160.1 248.0,158.5 245.4,160.1 246.2,157.3 243.8,155.6 246.9,155.4"/></g>
<g fill="#ff0000"><polygon points="257.8,152.8 258.8,155.4 261.9,155.5 259.5,157.3 260.3,160.0 257.8,158.5 255.2,160.0 256.0,157.3 253.6,155.5 256.7,155.4"/></g>
<g fill="#ff0000"><polygon points="267.5,152.7 268.6,155.3 271.7,155.5 269.3,157.2 270.1,159.9 267.5,158.4 264.9,159.9 265.7,157.2 263.3,155.5 266.4,155.3"/></g>
<g fill="#ff0000"><polygon points="277.2,152.7 278.3,155.3 281.4,155.4 279.0,157.2 279.8,159.9 277.2,158.4 274.6,159.9 275.4,157.2 273.0,155.4 276.1,155.3"/></g>
<g fill="#ff0000"><polygon points="286.9,152.6 288.0,155.3 291.1,155.4 288.7,157.2 289.5,159.9 286.9,158.3 284.3,159.9 285.1,157.2 282.7,155.4 285.8,155.3"/></g>
<g fill="#ff0000"><polygon points="296.6,152.6 297.7,155.2 300.8,155.4 298.4,157.1 299.2,159.8 296.6,158.3 294.1,159.8 294.9,157.1 292.5,155.4 295.6,155.2"/></g>
<g fill="#ff0000"><polygon points="306.4,152.6 307.5,155.2 310.6,155.3 308.2,157.1 309.0,159.8 306.4,158.3 303.8,159.8 304.6,157.1 302.2,155.3 305.3,155.2"/></g>
<g fill="#ff0000"><polygon points="316.1,152.6 317.2,155.2 320.3,155.3 317.9,157.1 318.7,159.8 316.1,158.3 313.5,159.8 314.3,157.1 311.9,155.3 315.0,155.2"/></g>
<g fill="#ff0000"><polygon points="325.8,152.5 326.9,155.2 330.0,155.3 327.6,157.1 328.4,159.8 325.8,158.2 323.2,159.8 324.0,157.1 321.6,155.3 324.7,155.2"/></g>
<g fill="#ff0000"><polygon points="335.6,152.5 336.6,155.1 339.7,155.3 337.3,157.0 338.1,159.8 335.6,158.2 333.0,159.8 333.8,157.0 331.4,155.3 334.5,155.1"/></g>
<g fill="#ff0000"><polygon points="345.3,152.5 346.4,155.1 349.5,155.3 347.1,157.0 347.9,159.7 345.3,158.2 342.7,159.7 343.5,157.0 341.1,155.3 344.2,155.1"/></g>
<g fill="#ff0000"><polygon points="355.0,152.5 356.1,155.1 359.2,155.2 356.8,157.0 357.6,159.7 355.0,158.2 352.4,159.7 353.2,157.0 350.8,155.2 353.9,155.1"/></g>
<g fill="#ff0000"><polygon points="364.7,152.5 365.8,155.1 368.9,155.2 366.5,157.0 367.3,159.7 364.7,158.2 362.1,159.7 362.9,157.0 360.5,155.2 363.6,155.1"/></g>
<g fill="#ff0000"><polygon points="374.4,152.4 375.5,155.1 378.6,155.2 376.2,157.0 377.0,159.7 374.4,158.1 371.9,159.7 372.7,157.0 370.3,155.2 373.4,155.1"/></g>
<g fill="#ff0000"><polygon points="384.2,152.4 385.3,155.1 388.4,155.2 386.0,157.0 386.8,159.7 384.2,158.1 381.6,159.7 382.4,157.0 380.0,155.2 383.1,155.1"/></g>
<g fill="#ff0000"><polygon points="393.9,152.4 395.0,155.0 398.1,155.2 395.7,156.9 396.5,159.7 393.9,158.1 391.3,159.7 392.1,156.9 389.7,155.2 392.8,155.0"/></g>
<g fill="#ff0000"><polygon points="403.6,152.4 404.7,155.0 407.8,155.2 405.4,156.9 406.2,159.6 403.6,158.1 401.0,159.6 401.8,156.9 399.4,155.2 402.5,155.0"/></g>
<g fill="#ff0000"><polygon points="413.4,152.4 414.4,155.0 417.5,155.2 415.1,156.9 415.9,159.6 413.4,158.1 410.8,159.6 411.6,156.9 409.2,155.2 412.3,155.0"/></g>
<g fill="#ff0000"><polygon points="423.1,152.4 424.2,155.0 427.3,155.2 424.9,156.9 425.7,159.6 423.1,158.1 420.5,159.6 421.3,156.9 418.9,155.2 422.0,155.0"/></g>
</g>
<g clip-path="url(#cb)">
<path transform="scale(1.4,1)" d="M30.93,432.4 L31.64,432.3 L32.36,432.2 L33.07,432.0 L33.79,431.7 L34.50,431.4 L35.21,431.0 L35.93,430.5 L36.64,429.9 L37.36,429.1 L38.07,428.1 L38.79,426.8 L39.50,425.4 L40.21,423.8 L40.93,422.1 L41.64,420.4 L42.36,418.6 L43.07,416.8 L43.79,414.9 L44.50,412.8 L45.21,410.6 L45.93,408.2 L46.64,405.5 L47.36,402.8 L48.07,399.9 L48.79,397.0 L49.50,394.0 L50.21,391.2 L50.93,388.3 L51.64,385.6 L52.36,382.9 L53.07,380.3 L53.79,377.7 L54.50,375.2 L55.21,372.8 L55.93,370.4 L56.64,368.1 L57.36,365.9 L58.07,363.7 L58.79,361.7 L59.50,359.7 L60.21,357.8 L60.93,355.9 L61.64,354.1 L62.36,352.4 L63.07,350.7 L63.79,349.0 L64.50,347.4 L65.21,345.8 L65.93,344.2 L66.64,342.7 L67.36,341.2 L68.07,339.7 L68.79,338.3 L69.50,336.9 L70.21,335.5 L70.93,334.2 L71.64,333.0 L72.36,331.8 L73.07,330.6 L73.79,329.5 L74.50,328.4 L75.21,327.4 L75.93,326.3 L76.64,325.4 L77.36,324.4 L78.07,323.5 L78.79,322.6 L79.50,321.7 L80.21,320.8 L80.93,320.0 L81.64,319.1 L82.36,318.3 L83.07,317.5 L83.79,316.8 L84.50,316.0 L85.21,315.3 L85.93,314.6 L86.64,314.0 L87.36,313.3 L88.07,312.7 L88.79,312.1 L89.50,311.5 L90.21,311.0 L90.93,310.4 L91.64,309.9 L92.36,309.4 L93.07,309.0 L93.79,308.5 L94.50,308.1 L95.21,307.7 L95.93,307.3 L96.64,306.9 L97.36,306.6 L98.07,306.2 L98.79,305.8 L99.50,305.5 L100.21,305.1 L100.93,304.7 L101.64,304.3 L102.36,303.9 L103.07,303.5 L103.79,303.2 L104.50,302.8 L105.21,302.4 L105.93,302.1 L106.64,301.7 L107.36,301.4 L108.07,301.2 L108.79,300.9 L109.50,300.7 L110.21,300.5 L110.93,300.3 L111.64,300.2 L112.36,300.0 L113.07,299.8 L113.79,299.7 L114.50,299.5 L115.21,299.4 L115.93,299.2 L116.64,299.1 L117.36,299.0 L118.07,298.8 L118.79,298.7 L119.50,298.6 L120.21,298.5 L120.93,298.4 L121.64,298.3 L122.36,298.2 L123.07,298.1 L123.79,298.0 L124.50,298.0 L125.21,297.9 L125.93,297.8 L126.64,297.8 L127.36,297.7 L128.07,297.6 L128.79,297.6 L129.50,297.5 L130.21,297.4 L130.93,297.4 L131.64,297.3 L132.36,297.2 L133.07,297.2 L133.79,297.1 L134.50,297.1 L135.21,297.0 L135.93,297.0 L136.64,296.9 L137.36,296.9 L138.07,296.9 L138.79,296.8 L139.50,296.8 L140.21,296.8 L140.93,296.7 L141.64,296.7 L142.36,296.7 L143.07,296.7 L143.79,296.7 L144.50,296.7 L145.21,296.7 L145.93,296.7 L146.64,296.7 L147.36,296.6 L148.07,296.6 L148.79,296.6 L149.50,296.6 L150.21,296.6 L150.93,296.6 L151.64,296.6 L152.36,296.6 L153.07,296.6 L153.79,296.6 L154.50,296.6 L155.21,296.6 L155.93,296.6 L156.64,296.6 L157.36,296.6 L158.07,296.6 L158.79,296.6 L159.50,296.6 L160.21,296.6 L160.93,296.6 L161.64,296.7 L162.36,296.7 L163.07,296.7 L163.79,296.7 L164.50,296.7 L165.21,296.7 L165.93,296.8 L166.64,296.8 L167.36,296.8 L168.07,296.8 L168.79,296.8 L169.50,296.8 L170.21,296.9 L170.93,296.9 L171.64,296.9 L172.36,296.9 L173.07,296.9 L173.79,297.0 L174.50,297.0 L175.21,297.0 L175.93,297.0 L176.64,297.0 L177.36,297.1 L178.07,297.1 L178.79,297.1 L179.50,297.1 L180.21,297.2 L180.93,297.2 L181.64,297.2 L182.36,297.2 L183.07,297.3 L183.79,297.3 L184.50,297.3 L185.21,297.3 L185.93,297.4 L186.64,297.4 L187.36,297.4 L188.07,297.4 L188.79,297.5 L189.50,297.5 L190.21,297.5 L190.93,297.6 L191.64,297.6 L192.36,297.6 L193.07,297.7 L193.79,297.7 L194.50,297.7 L195.21,297.7 L195.93,297.8 L196.64,297.8 L197.36,297.8 L198.07,297.9 L198.79,297.9 L199.50,297.9 L200.21,298.0 L200.93,298.0 L201.64,298.0 L202.36,298.0 L203.07,298.1 L203.79,298.1 L204.50,298.1 L205.21,298.2 L205.93,298.2 L206.64,298.2 L207.36,298.2 L208.07,298.3 L208.79,298.3 L209.50,298.3 L210.21,298.4 L210.93,298.4 L211.64,298.4 L212.36,298.4 L213.07,298.5 L213.79,298.5 L214.50,298.5 L215.21,298.5 L215.93,298.6 L216.64,298.6 L217.36,298.6 L218.07,298.6 L218.79,298.7 L219.50,298.7 L220.21,298.7 L220.93,298.7 L221.64,298.8 L222.36,298.8 L223.07,298.8 L223.79,298.8 L224.50,298.9 L225.21,298.9 L225.93,298.9 L226.64,298.9 L227.36,299.0 L228.07,299.0 L228.79,299.0 L229.50,299.0 L230.21,299.1 L230.93,299.1 L231.64,299.1 L232.36,299.1 L233.07,299.2 L233.79,299.2 L234.50,299.2 L235.21,299.2 L235.93,299.2 L236.64,299.2 L237.36,299.2 L238.07,299.3 L238.79,299.3 L239.50,299.3 L240.21,299.3 L240.93,299.3 L241.64,299.3 L242.36,299.3 L243.07,299.3 L243.79,299.3 L244.50,299.3 L245.21,299.3 L245.93,299.3 L246.64,299.3 L247.36,299.3 L248.07,299.3 L248.79,299.3 L249.50,299.3 L250.21,299.3 L250.93,299.3 L251.64,299.3 L252.36,299.3 L253.07,299.3 L253.79,299.3 L254.50,299.3 L255.21,299.3 L255.93,299.3 L256.64,299.3 L257.36,299.3 L258.07,299.3 L258.79,299.3 L259.50,299.3 L260.21,299.3 L260.93,299.3 L261.64,299.3 L262.36,299.3 L263.07,299.3 L263.79,299.3 L264.50,299.3 L265.21,299.3 L265.93,299.3 L266.64,299.3 L267.36,299.3 L268.07,299.3 L268.79,299.3 L269.50,299.3 L270.21,299.3 L270.93,299.3 L271.64,299.3 L272.36,299.3 L273.07,299.3 L273.79,299.3 L274.50,299.3 L275.21,299.3 L275.93,299.3 L276.64,299.3 L277.36,299.3 L278.07,299.3 L278.79,299.3 L279.50,299.3 L280.21,299.3 L280.93,299.3 L281.64,299.3 L282.36,299.3 L283.07,299.3 L283.79,299.3 L284.50,299.3 L285.21,299.3 L285.93,299.3 L286.64,299.3 L287.36,299.3 L288.07,299.3 L288.79,299.3 L289.50,299.3 L290.21,299.3 L290.93,299.3 L291.64,299.3 L292.36,299.3 L293.07,299.3 L293.79,299.3 L294.50,299.3 L295.21,299.3 L295.93,299.3 L296.64,299.3 L297.36,299.3 L298.07,299.3 L298.79,299.3 L299.50,299.3 L300.21,299.3 L300.93,299.3 L301.64,299.3 L302.36,299.3 L303.07,299.3 L303.79,299.3 L304.50,299.3 L304.86,299.3" fill="none" stroke="#0000ff" stroke-width="2.5" stroke-linejoin="round"/>
<rect x="41.9" y="430.7" width="3.8" height="3.2" fill="#00e5ff" stroke="#0000ff" stroke-width="1.1"/>
<rect x="51.3" y="426.6" width="3.8" height="3.2" fill="#00e5ff" stroke="#0000ff" stroke-width="1.1"/>
<rect x="60.7" y="410.6" width="3.8" height="3.2" fill="#00e5ff" stroke="#0000ff" stroke-width="1.1"/>
<rect x="70.2" y="384.5" width="3.8" height="3.2" fill="#00e5ff" stroke="#0000ff" stroke-width="1.1"/>
<rect x="80.0" y="360.9" width="3.8" height="3.2" fill="#00e5ff" stroke="#0000ff" stroke-width="1.1"/>
<rect x="89.7" y="343.7" width="3.8" height="3.2" fill="#00e5ff" stroke="#0000ff" stroke-width="1.1"/>
<rect x="99.9" y="329.6" width="3.8" height="3.2" fill="#00e5ff" stroke="#0000ff" stroke-width="1.1"/>
<rect x="109.7" y="319.8" width="3.8" height="3.2" fill="#00e5ff" stroke="#0000ff" stroke-width="1.1"/>
<rect x="119.1" y="312.6" width="3.8" height="3.2" fill="#00e5ff" stroke="#0000ff" stroke-width="1.1"/>
<rect x="128.9" y="307.1" width="3.8" height="3.2" fill="#00e5ff" stroke="#0000ff" stroke-width="1.1"/>
<rect x="138.8" y="303.4" width="3.8" height="3.2" fill="#00e5ff" stroke="#0000ff" stroke-width="1.1"/>
<rect x="148.6" y="299.8" width="3.8" height="3.2" fill="#00e5ff" stroke="#0000ff" stroke-width="1.1"/>
<rect x="158.4" y="297.9" width="3.8" height="3.2" fill="#00e5ff" stroke="#0000ff" stroke-width="1.1"/>
<rect x="168.1" y="296.7" width="3.8" height="3.2" fill="#00e5ff" stroke="#0000ff" stroke-width="1.1"/>
<rect x="177.8" y="296.0" width="3.8" height="3.2" fill="#00e5ff" stroke="#0000ff" stroke-width="1.1"/>
<rect x="187.6" y="295.4" width="3.8" height="3.2" fill="#00e5ff" stroke="#0000ff" stroke-width="1.1"/>
<rect x="197.5" y="295.1" width="3.8" height="3.2" fill="#00e5ff" stroke="#0000ff" stroke-width="1.1"/>
<rect x="207.2" y="295.0" width="3.8" height="3.2" fill="#00e5ff" stroke="#0000ff" stroke-width="1.1"/>
<rect x="216.9" y="295.0" width="3.8" height="3.2" fill="#00e5ff" stroke="#0000ff" stroke-width="1.1"/>
<rect x="226.7" y="295.1" width="3.8" height="3.2" fill="#00e5ff" stroke="#0000ff" stroke-width="1.1"/>
<rect x="236.4" y="295.3" width="3.8" height="3.2" fill="#00e5ff" stroke="#0000ff" stroke-width="1.1"/>
<rect x="246.1" y="295.5" width="3.8" height="3.2" fill="#00e5ff" stroke="#0000ff" stroke-width="1.1"/>
<rect x="255.8" y="295.7" width="3.8" height="3.2" fill="#00e5ff" stroke="#0000ff" stroke-width="1.1"/>
<rect x="265.6" y="296.0" width="3.8" height="3.2" fill="#00e5ff" stroke="#0000ff" stroke-width="1.1"/>
<rect x="275.3" y="296.3" width="3.8" height="3.2" fill="#00e5ff" stroke="#0000ff" stroke-width="1.1"/>
<rect x="285.0" y="296.6" width="3.8" height="3.2" fill="#00e5ff" stroke="#0000ff" stroke-width="1.1"/>
<rect x="294.8" y="296.8" width="3.8" height="3.2" fill="#00e5ff" stroke="#0000ff" stroke-width="1.1"/>
<rect x="304.5" y="297.1" width="3.8" height="3.2" fill="#00e5ff" stroke="#0000ff" stroke-width="1.1"/>
<rect x="314.2" y="297.3" width="3.8" height="3.2" fill="#00e5ff" stroke="#0000ff" stroke-width="1.1"/>
<rect x="323.9" y="297.5" width="3.8" height="3.2" fill="#00e5ff" stroke="#0000ff" stroke-width="1.1"/>
<rect x="333.7" y="297.7" width="3.8" height="3.2" fill="#00e5ff" stroke="#0000ff" stroke-width="1.1"/>
<rect x="343.4" y="297.7" width="3.8" height="3.2" fill="#00e5ff" stroke="#0000ff" stroke-width="1.1"/>
<rect x="353.1" y="297.7" width="3.8" height="3.2" fill="#00e5ff" stroke="#0000ff" stroke-width="1.1"/>
<rect x="362.8" y="297.7" width="3.8" height="3.2" fill="#00e5ff" stroke="#0000ff" stroke-width="1.1"/>
<rect x="372.6" y="297.7" width="3.8" height="3.2" fill="#00e5ff" stroke="#0000ff" stroke-width="1.1"/>
<rect x="382.3" y="297.7" width="3.8" height="3.2" fill="#00e5ff" stroke="#0000ff" stroke-width="1.1"/>
<rect x="392.0" y="297.7" width="3.8" height="3.2" fill="#00e5ff" stroke="#0000ff" stroke-width="1.1"/>
<rect x="401.7" y="297.7" width="3.8" height="3.2" fill="#00e5ff" stroke="#0000ff" stroke-width="1.1"/>
<rect x="411.5" y="297.7" width="3.8" height="3.2" fill="#00e5ff" stroke="#0000ff" stroke-width="1.1"/>
<rect x="421.2" y="297.7" width="3.8" height="3.2" fill="#00e5ff" stroke="#0000ff" stroke-width="1.1"/>
<path transform="scale(1.4,1)" d="M30.93,431.4 L31.64,431.2 L32.36,430.9 L33.07,430.5 L33.79,430.0 L34.50,429.4 L35.21,428.6 L35.93,427.7 L36.64,426.7 L37.36,425.5 L38.07,424.1 L38.79,422.6 L39.50,420.9 L40.21,419.1 L40.93,417.2 L41.64,415.2 L42.36,413.1 L43.07,410.9 L43.79,408.7 L44.50,406.5 L45.21,404.3 L45.93,402.1 L46.64,400.1 L47.36,398.0 L48.07,396.0 L48.79,394.1 L49.50,392.1 L50.21,390.2 L50.93,388.2 L51.64,386.2 L52.36,384.2 L53.07,382.2 L53.79,380.2 L54.50,378.2 L55.21,376.2 L55.93,374.1 L56.64,372.1 L57.36,370.1 L58.07,368.0 L58.79,366.0 L59.50,364.0 L60.21,362.0 L60.93,360.0 L61.64,358.1 L62.36,356.3 L63.07,354.5 L63.79,352.8 L64.50,351.2 L65.21,349.7 L65.93,348.2 L66.64,346.8 L67.36,345.4 L68.07,344.1 L68.79,342.8 L69.50,341.5 L70.21,340.2 L70.93,339.0 L71.64,337.7 L72.36,336.6 L73.07,335.4 L73.79,334.3 L74.50,333.2 L75.21,332.2 L75.93,331.3 L76.64,330.3 L77.36,329.4 L78.07,328.6 L78.79,327.7 L79.50,326.9 L80.21,326.1 L80.93,325.3 L81.64,324.6 L82.36,323.9 L83.07,323.2 L83.79,322.5 L84.50,321.8 L85.21,321.2 L85.93,320.6 L86.64,320.0 L87.36,319.4 L88.07,318.9 L88.79,318.4 L89.50,317.9 L90.21,317.4 L90.93,316.9 L91.64,316.5 L92.36,316.0 L93.07,315.6 L93.79,315.2 L94.50,314.8 L95.21,314.4 L95.93,314.0 L96.64,313.6 L97.36,313.2 L98.07,312.9 L98.79,312.5 L99.50,312.2 L100.21,311.8 L100.93,311.5 L101.64,311.1 L102.36,310.8 L103.07,310.5 L103.79,310.1 L104.50,309.8 L105.21,309.5 L105.93,309.2 L106.64,308.9 L107.36,308.6 L108.07,308.4 L108.79,308.1 L109.50,307.8 L110.21,307.6 L110.93,307.4 L111.64,307.1 L112.36,306.9 L113.07,306.7 L113.79,306.6 L114.50,306.4 L115.21,306.2 L115.93,306.1 L116.64,305.9 L117.36,305.8 L118.07,305.6 L118.79,305.5 L119.50,305.3 L120.21,305.2 L120.93,305.1 L121.64,305.0 L122.36,304.9 L123.07,304.8 L123.79,304.6 L124.50,304.5 L125.21,304.4 L125.93,304.3 L126.64,304.2 L127.36,304.2 L128.07,304.1 L128.79,304.0 L129.50,303.9 L130.21,303.8 L130.93,303.7 L131.64,303.6 L132.36,303.6 L133.07,303.5 L133.79,303.4 L134.50,303.4 L135.21,303.3 L135.93,303.2 L136.64,303.2 L137.36,303.1 L138.07,303.1 L138.79,303.0 L139.50,303.0 L140.21,302.9 L140.93,302.9 L141.64,302.8 L142.36,302.8 L143.07,302.7 L143.79,302.7 L144.50,302.7 L145.21,302.6 L145.93,302.6 L146.64,302.5 L147.36,302.5 L148.07,302.5 L148.79,302.4 L149.50,302.4 L150.21,302.4 L150.93,302.3 L151.64,302.3 L152.36,302.2 L153.07,302.2 L153.79,302.1 L154.50,302.1 L155.21,302.1 L155.93,302.0 L156.64,302.0 L157.36,301.9 L158.07,301.9 L158.79,301.9 L159.50,301.9 L160.21,301.8 L160.93,301.8 L161.64,301.8 L162.36,301.8 L163.07,301.8 L163.79,301.8 L164.50,301.8 L165.21,301.8 L165.93,301.8 L166.64,301.8 L167.36,301.8 L168.07,301.8 L168.79,301.8 L169.50,301.8 L170.21,301.8 L170.93,301.8 L171.64,301.8 L172.36,301.8 L173.07,301.8 L173.79,301.8 L174.50,301.8 L175.21,301.8 L175.93,301.8 L176.64,301.8 L177.36,301.8 L178.07,301.8 L178.79,301.9 L179.50,301.9 L180.21,301.9 L180.93,301.9 L181.64,301.9 L182.36,301.9 L183.07,301.9 L183.79,302.0 L184.50,302.0 L185.21,302.0 L185.93,302.0 L186.64,302.0 L187.36,302.0 L188.07,302.0 L188.79,301.9 L189.50,301.9 L190.21,301.9 L190.93,301.8 L191.64,301.8 L192.36,301.7 L193.07,301.7 L193.79,301.6 L194.50,301.6 L195.21,301.5 L195.93,301.5 L196.64,301.4 L197.36,301.4 L198.07,301.4 L198.79,301.3 L199.50,301.3 L200.21,301.3 L200.93,301.2 L201.64,301.2 L202.36,301.2 L203.07,301.2 L203.79,301.1 L204.50,301.1 L205.21,301.1 L205.93,301.1 L206.64,301.1 L207.36,301.1 L208.07,301.0 L208.79,301.0 L209.50,301.0 L210.21,301.0 L210.93,301.0 L211.64,301.0 L212.36,301.0 L213.07,301.0 L213.79,301.0 L214.50,301.0 L215.21,301.0 L215.93,301.0 L216.64,301.0 L217.36,301.0 L218.07,301.0 L218.79,301.0 L219.50,301.0 L220.21,301.0 L220.93,301.0 L221.64,301.0 L222.36,301.0 L223.07,301.0 L223.79,301.0 L224.50,301.0 L225.21,301.0 L225.93,301.0 L226.64,301.0 L227.36,301.0 L228.07,301.0 L228.79,301.0 L229.50,301.0 L230.21,301.0 L230.93,300.9 L231.64,300.9 L232.36,300.9 L233.07,300.9 L233.79,300.9 L234.50,300.9 L235.21,300.9 L235.93,300.9 L236.64,300.9 L237.36,300.9 L238.07,300.9 L238.79,300.8 L239.50,300.8 L240.21,300.8 L240.93,300.8 L241.64,300.8 L242.36,300.8 L243.07,300.8 L243.79,300.8 L244.50,300.8 L245.21,300.8 L245.93,300.8 L246.64,300.8 L247.36,300.8 L248.07,300.8 L248.79,300.8 L249.50,300.8 L250.21,300.7 L250.93,300.7 L251.64,300.7 L252.36,300.7 L253.07,300.7 L253.79,300.7 L254.50,300.7 L255.21,300.7 L255.93,300.7 L256.64,300.7 L257.36,300.7 L258.07,300.7 L258.79,300.7 L259.50,300.7 L260.21,300.7 L260.93,300.7 L261.64,300.7 L262.36,300.7 L263.07,300.7 L263.79,300.7 L264.50,300.7 L265.21,300.7 L265.93,300.6 L266.64,300.6 L267.36,300.6 L268.07,300.6 L268.79,300.6 L269.50,300.6 L270.21,300.6 L270.93,300.6 L271.64,300.6 L272.36,300.6 L273.07,300.6 L273.79,300.6 L274.50,300.6 L275.21,300.6 L275.93,300.6 L276.64,300.6 L277.36,300.6 L278.07,300.6 L278.79,300.6 L279.50,300.5 L280.21,300.5 L280.93,300.5 L281.64,300.5 L282.36,300.5 L283.07,300.5 L283.79,300.5 L284.50,300.5 L285.21,300.5 L285.93,300.5 L286.64,300.5 L287.36,300.5 L288.07,300.5 L288.79,300.5 L289.50,300.5 L290.21,300.4 L290.93,300.4 L291.64,300.4 L292.36,300.4 L293.07,300.4 L293.79,300.4 L294.50,300.4 L295.21,300.4 L295.93,300.4 L296.64,300.4 L297.36,300.4 L298.07,300.4 L298.79,300.4 L299.50,300.4 L300.21,300.3 L300.93,300.3 L301.64,300.3 L302.36,300.3 L303.07,300.3 L303.79,300.3 L304.50,300.3 L304.86,300.3" fill="none" stroke="#000" stroke-width="2.5" stroke-linejoin="round"/>
<ellipse cx="52.0" cy="425.8" rx="2.1" ry="1.9" fill="#ffee00" stroke="#000" stroke-width="1.15"/>
<ellipse cx="71.4" cy="388.1" rx="2.1" ry="1.9" fill="#ffee00" stroke="#000" stroke-width="1.15"/>
<ellipse cx="88.6" cy="354.0" rx="2.1" ry="1.9" fill="#ffee00" stroke="#000" stroke-width="1.15"/>
<ellipse cx="105.9" cy="331.7" rx="2.1" ry="1.9" fill="#ffee00" stroke="#000" stroke-width="1.15"/>
<ellipse cx="123.1" cy="319.0" rx="2.1" ry="1.9" fill="#ffee00" stroke="#000" stroke-width="1.15"/>
<ellipse cx="140.4" cy="311.8" rx="2.1" ry="1.9" fill="#ffee00" stroke="#000" stroke-width="1.15"/>
<ellipse cx="157.7" cy="306.9" rx="2.1" ry="1.9" fill="#ffee00" stroke="#000" stroke-width="1.15"/>
<ellipse cx="174.9" cy="304.5" rx="2.1" ry="1.9" fill="#ffee00" stroke="#000" stroke-width="1.15"/>
<ellipse cx="192.2" cy="303.1" rx="2.1" ry="1.9" fill="#ffee00" stroke="#000" stroke-width="1.15"/>
<ellipse cx="209.4" cy="302.4" rx="2.1" ry="1.9" fill="#ffee00" stroke="#000" stroke-width="1.15"/>
<ellipse cx="226.7" cy="301.8" rx="2.1" ry="1.9" fill="#ffee00" stroke="#000" stroke-width="1.15"/>
<ellipse cx="244.0" cy="301.8" rx="2.1" ry="1.9" fill="#ffee00" stroke="#000" stroke-width="1.15"/>
<ellipse cx="261.2" cy="302.0" rx="2.1" ry="1.9" fill="#ffee00" stroke="#000" stroke-width="1.15"/>
<ellipse cx="278.5" cy="301.3" rx="2.1" ry="1.9" fill="#ffee00" stroke="#000" stroke-width="1.15"/>
<ellipse cx="295.7" cy="301.0" rx="2.1" ry="1.9" fill="#ffee00" stroke="#000" stroke-width="1.15"/>
<ellipse cx="313.0" cy="301.0" rx="2.1" ry="1.9" fill="#ffee00" stroke="#000" stroke-width="1.15"/>
<ellipse cx="330.3" cy="300.9" rx="2.1" ry="1.9" fill="#ffee00" stroke="#000" stroke-width="1.15"/>
<ellipse cx="347.5" cy="300.8" rx="2.1" ry="1.9" fill="#ffee00" stroke="#000" stroke-width="1.15"/>
<ellipse cx="364.8" cy="300.7" rx="2.1" ry="1.9" fill="#ffee00" stroke="#000" stroke-width="1.15"/>
<ellipse cx="382.0" cy="300.6" rx="2.1" ry="1.9" fill="#ffee00" stroke="#000" stroke-width="1.15"/>
<ellipse cx="399.3" cy="300.5" rx="2.1" ry="1.9" fill="#ffee00" stroke="#000" stroke-width="1.15"/>
<ellipse cx="416.6" cy="300.4" rx="2.1" ry="1.9" fill="#ffee00" stroke="#000" stroke-width="1.15"/>
<path transform="scale(1.4,1)" d="M30.93,432.7 L31.64,432.6 L32.36,432.5 L33.07,432.3 L33.79,432.1 L34.50,431.8 L35.21,431.4 L35.93,431.0 L36.64,430.4 L37.36,429.8 L38.07,429.2 L38.79,428.5 L39.50,427.8 L40.21,427.1 L40.93,426.3 L41.64,425.6 L42.36,424.8 L43.07,424.0 L43.79,423.0 L44.50,422.0 L45.21,420.7 L45.93,419.4 L46.64,417.8 L47.36,416.2 L48.07,414.6 L48.79,412.9 L49.50,411.2 L50.21,409.4 L50.93,407.7 L51.64,406.0 L52.36,404.3 L53.07,402.5 L53.79,400.8 L54.50,399.0 L55.21,397.3 L55.93,395.5 L56.64,393.8 L57.36,392.1 L58.07,390.4 L58.79,388.7 L59.50,387.0 L60.21,385.4 L60.93,383.8 L61.64,382.2 L62.36,380.6 L63.07,379.0 L63.79,377.5 L64.50,376.0 L65.21,374.5 L65.93,373.1 L66.64,371.6 L67.36,370.2 L68.07,368.8 L68.79,367.5 L69.50,366.1 L70.21,364.8 L70.93,363.5 L71.64,362.3 L72.36,361.0 L73.07,359.8 L73.79,358.6 L74.50,357.4 L75.21,356.3 L75.93,355.2 L76.64,354.0 L77.36,353.0 L78.07,351.9 L78.79,350.8 L79.50,349.8 L80.21,348.7 L80.93,347.7 L81.64,346.7 L82.36,345.7 L83.07,344.7 L83.79,343.7 L84.50,342.8 L85.21,341.8 L85.93,340.9 L86.64,340.0 L87.36,339.1 L88.07,338.3 L88.79,337.4 L89.50,336.6 L90.21,335.8 L90.93,335.0 L91.64,334.3 L92.36,333.6 L93.07,332.9 L93.79,332.2 L94.50,331.5 L95.21,330.9 L95.93,330.3 L96.64,329.7 L97.36,329.2 L98.07,328.6 L98.79,328.1 L99.50,327.5 L100.21,327.0 L100.93,326.5 L101.64,326.1 L102.36,325.6 L103.07,325.1 L103.79,324.7 L104.50,324.3 L105.21,323.8 L105.93,323.4 L106.64,323.0 L107.36,322.6 L108.07,322.2 L108.79,321.8 L109.50,321.4 L110.21,321.0 L110.93,320.6 L111.64,320.2 L112.36,319.8 L113.07,319.4 L113.79,319.1 L114.50,318.7 L115.21,318.4 L115.93,318.0 L116.64,317.7 L117.36,317.4 L118.07,317.0 L118.79,316.7 L119.50,316.4 L120.21,316.1 L120.93,315.8 L121.64,315.6 L122.36,315.3 L123.07,315.0 L123.79,314.8 L124.50,314.6 L125.21,314.3 L125.93,314.1 L126.64,313.9 L127.36,313.7 L128.07,313.5 L128.79,313.3 L129.50,313.1 L130.21,312.9 L130.93,312.7 L131.64,312.6 L132.36,312.4 L133.07,312.2 L133.79,312.0 L134.50,311.9 L135.21,311.7 L135.93,311.5 L136.64,311.4 L137.36,311.2 L138.07,311.0 L138.79,310.8 L139.50,310.7 L140.21,310.5 L140.93,310.3 L141.64,310.2 L142.36,310.0 L143.07,309.9 L143.79,309.8 L144.50,309.7 L145.21,309.5 L145.93,309.4 L146.64,309.3 L147.36,309.2 L148.07,309.1 L148.79,309.0 L149.50,308.9 L150.21,308.8 L150.93,308.7 L151.64,308.7 L152.36,308.6 L153.07,308.5 L153.79,308.4 L154.50,308.3 L155.21,308.2 L155.93,308.1 L156.64,308.1 L157.36,308.0 L158.07,307.9 L158.79,307.8 L159.50,307.7 L160.21,307.7 L160.93,307.6 L161.64,307.5 L162.36,307.4 L163.07,307.4 L163.79,307.3 L164.50,307.2 L165.21,307.2 L165.93,307.1 L166.64,307.0 L167.36,307.0 L168.07,306.9 L168.79,306.8 L169.50,306.8 L170.21,306.7 L170.93,306.6 L171.64,306.6 L172.36,306.5 L173.07,306.5 L173.79,306.4 L174.50,306.4 L175.21,306.3 L175.93,306.3 L176.64,306.2 L177.36,306.2 L178.07,306.1 L178.79,306.1 L179.50,306.0 L180.21,306.0 L180.93,305.9 L181.64,305.9 L182.36,305.8 L183.07,305.8 L183.79,305.7 L184.50,305.7 L185.21,305.7 L185.93,305.6 L186.64,305.6 L187.36,305.5 L188.07,305.5 L188.79,305.4 L189.50,305.4 L190.21,305.4 L190.93,305.3 L191.64,305.3 L192.36,305.2 L193.07,305.2 L193.79,305.1 L194.50,305.1 L195.21,305.1 L195.93,305.0 L196.64,305.0 L197.36,304.9 L198.07,304.9 L198.79,304.8 L199.50,304.8 L200.21,304.8 L200.93,304.7 L201.64,304.7 L202.36,304.6 L203.07,304.6 L203.79,304.5 L204.50,304.5 L205.21,304.5 L205.93,304.4 L206.64,304.4 L207.36,304.3 L208.07,304.3 L208.79,304.3 L209.50,304.2 L210.21,304.2 L210.93,304.2 L211.64,304.1 L212.36,304.1 L213.07,304.1 L213.79,304.0 L214.50,304.0 L215.21,304.0 L215.93,303.9 L216.64,303.9 L217.36,303.9 L218.07,303.8 L218.79,303.8 L219.50,303.8 L220.21,303.8 L220.93,303.7 L221.64,303.7 L222.36,303.7 L223.07,303.6 L223.79,303.6 L224.50,303.6 L225.21,303.6 L225.93,303.5 L226.64,303.5 L227.36,303.5 L228.07,303.5 L228.79,303.4 L229.50,303.4 L230.21,303.4 L230.93,303.4 L231.64,303.3 L232.36,303.3 L233.07,303.3 L233.79,303.3 L234.50,303.2 L235.21,303.2 L235.93,303.2 L236.64,303.2 L237.36,303.2 L238.07,303.1 L238.79,303.1 L239.50,303.1 L240.21,303.1 L240.93,303.1 L241.64,303.0 L242.36,303.0 L243.07,303.0 L243.79,303.0 L244.50,303.0 L245.21,302.9 L245.93,302.9 L246.64,302.9 L247.36,302.9 L248.07,302.9 L248.79,302.8 L249.50,302.8 L250.21,302.8 L250.93,302.8 L251.64,302.8 L252.36,302.8 L253.07,302.7 L253.79,302.7 L254.50,302.7 L255.21,302.7 L255.93,302.7 L256.64,302.7 L257.36,302.6 L258.07,302.6 L258.79,302.6 L259.50,302.6 L260.21,302.6 L260.93,302.6 L261.64,302.5 L262.36,302.5 L263.07,302.5 L263.79,302.5 L264.50,302.5 L265.21,302.5 L265.93,302.5 L266.64,302.4 L267.36,302.4 L268.07,302.4 L268.79,302.4 L269.50,302.4 L270.21,302.4 L270.93,302.3 L271.64,302.3 L272.36,302.3 L273.07,302.3 L273.79,302.3 L274.50,302.3 L275.21,302.2 L275.93,302.2 L276.64,302.2 L277.36,302.2 L278.07,302.2 L278.79,302.2 L279.50,302.2 L280.21,302.1 L280.93,302.1 L281.64,302.1 L282.36,302.1 L283.07,302.1 L283.79,302.1 L284.50,302.0 L285.21,302.0 L285.93,302.0 L286.64,302.0 L287.36,302.0 L288.07,302.0 L288.79,301.9 L289.50,301.9 L290.21,301.9 L290.93,301.9 L291.64,301.9 L292.36,301.9 L293.07,301.9 L293.79,301.8 L294.50,301.8 L295.21,301.8 L295.93,301.8 L296.64,301.8 L297.36,301.8 L298.07,301.7 L298.79,301.7 L299.50,301.7 L300.21,301.7 L300.93,301.7 L301.64,301.7 L302.36,301.7 L303.07,301.6 L303.79,301.6 L304.50,301.6 L304.86,301.6" fill="none" stroke="#ff0000" stroke-width="2.5" stroke-linejoin="round"/>
<g fill="#ff0000"><polygon points="43.8,428.7 44.9,431.3 48.0,431.4 45.6,433.2 46.4,435.9 43.8,434.4 41.2,435.9 42.0,433.2 39.6,431.4 42.7,431.3"/></g>
<g fill="#ff0000"><polygon points="53.2,425.3 54.3,427.9 57.4,428.0 55.0,429.8 55.8,432.5 53.2,431.0 50.6,432.5 51.4,429.8 49.0,428.0 52.1,427.9"/></g>
<g fill="#ff0000"><polygon points="62.6,417.6 63.7,420.2 66.8,420.3 64.4,422.1 65.2,424.8 62.6,423.3 60.0,424.8 60.8,422.1 58.4,420.3 61.5,420.2"/></g>
<g fill="#ff0000"><polygon points="72.1,402.4 73.2,405.0 76.3,405.1 73.9,406.9 74.7,409.6 72.1,408.1 69.5,409.6 70.3,406.9 67.9,405.1 71.0,405.0"/></g>
<g fill="#ff0000"><polygon points="81.9,385.4 83.0,388.0 86.1,388.1 83.7,389.9 84.5,392.6 81.9,391.1 79.3,392.6 80.1,389.9 77.7,388.1 80.8,388.0"/></g>
<g fill="#ff0000"><polygon points="91.6,370.1 92.7,372.7 95.8,372.8 93.4,374.6 94.2,377.3 91.6,375.8 89.0,377.3 89.8,374.6 87.4,372.8 90.5,372.7"/></g>
<g fill="#ff0000"><polygon points="101.8,356.4 102.9,359.0 106.0,359.2 103.6,360.9 104.4,363.7 101.8,362.1 99.2,363.7 100.0,360.9 97.6,359.2 100.7,359.0"/></g>
<g fill="#ff0000"><polygon points="111.6,345.4 112.7,348.1 115.8,348.2 113.4,350.0 114.2,352.7 111.6,351.1 109.0,352.7 109.8,350.0 107.4,348.2 110.5,348.1"/></g>
<g fill="#ff0000"><polygon points="121.0,336.3 122.1,338.9 125.2,339.0 122.8,340.8 123.6,343.5 121.0,342.0 118.4,343.5 119.2,340.8 116.8,339.0 119.9,338.9"/></g>
<g fill="#ff0000"><polygon points="130.8,328.5 131.9,331.1 135.0,331.3 132.6,333.0 133.4,335.8 130.8,334.2 128.2,335.8 129.0,333.0 126.6,331.3 129.7,331.1"/></g>
<g fill="#ff0000"><polygon points="140.7,322.8 141.8,325.5 144.9,325.6 142.5,327.4 143.3,330.1 140.7,328.5 138.1,330.1 138.9,327.4 136.5,325.6 139.6,325.5"/></g>
<g fill="#ff0000"><polygon points="150.5,318.5 151.6,321.1 154.7,321.3 152.3,323.0 153.1,325.7 150.5,324.2 147.9,325.7 148.7,323.0 146.3,321.3 149.4,321.1"/></g>
<g fill="#ff0000"><polygon points="160.3,314.7 161.4,317.3 164.5,317.5 162.1,319.2 162.9,322.0 160.3,320.4 157.7,322.0 158.5,319.2 156.1,317.5 159.2,317.3"/></g>
<g fill="#ff0000"><polygon points="170.0,311.6 171.1,314.3 174.2,314.4 171.8,316.2 172.6,318.9 170.0,317.3 167.4,318.9 168.2,316.2 165.8,314.4 168.9,314.3"/></g>
<g fill="#ff0000"><polygon points="179.7,309.4 180.8,312.0 183.9,312.2 181.5,313.9 182.3,316.6 179.7,315.1 177.1,316.6 177.9,313.9 175.5,312.2 178.6,312.0"/></g>
<g fill="#ff0000"><polygon points="189.5,307.7 190.6,310.3 193.7,310.4 191.3,312.2 192.1,314.9 189.5,313.4 186.9,314.9 187.7,312.2 185.3,310.4 188.4,310.3"/></g>
<g fill="#ff0000"><polygon points="199.4,306.0 200.5,308.7 203.6,308.8 201.2,310.6 202.0,313.3 199.4,311.7 196.8,313.3 197.6,310.6 195.2,308.8 198.3,308.7"/></g>
<g fill="#ff0000"><polygon points="209.1,304.9 210.2,307.6 213.3,307.7 210.9,309.5 211.7,312.2 209.1,310.6 206.5,312.2 207.3,309.5 204.9,307.7 208.0,307.6"/></g>
<g fill="#ff0000"><polygon points="218.8,304.1 219.9,306.7 223.0,306.9 220.6,308.6 221.4,311.3 218.8,309.8 216.3,311.3 217.1,308.6 214.7,306.9 217.8,306.7"/></g>
<g fill="#ff0000"><polygon points="228.6,303.3 229.7,306.0 232.8,306.1 230.4,307.9 231.2,310.6 228.6,309.0 226.0,310.6 226.8,307.9 224.4,306.1 227.5,306.0"/></g>
<g fill="#ff0000"><polygon points="238.3,302.7 239.4,305.3 242.5,305.5 240.1,307.2 240.9,309.9 238.3,308.4 235.7,309.9 236.5,307.2 234.1,305.5 237.2,305.3"/></g>
<g fill="#ff0000"><polygon points="248.0,302.2 249.1,304.8 252.2,304.9 249.8,306.7 250.6,309.4 248.0,307.9 245.4,309.4 246.2,306.7 243.8,304.9 246.9,304.8"/></g>
<g fill="#ff0000"><polygon points="257.8,301.7 258.8,304.4 261.9,304.5 259.5,306.3 260.3,309.0 257.8,307.4 255.2,309.0 256.0,306.3 253.6,304.5 256.7,304.4"/></g>
<g fill="#ff0000"><polygon points="267.5,301.3 268.6,303.9 271.7,304.1 269.3,305.8 270.1,308.5 267.5,307.0 264.9,308.5 265.7,305.8 263.3,304.1 266.4,303.9"/></g>
<g fill="#ff0000"><polygon points="277.2,300.9 278.3,303.5 281.4,303.7 279.0,305.4 279.8,308.1 277.2,306.6 274.6,308.1 275.4,305.4 273.0,303.7 276.1,303.5"/></g>
<g fill="#ff0000"><polygon points="286.9,300.5 288.0,303.1 291.1,303.2 288.7,305.0 289.5,307.7 286.9,306.2 284.3,307.7 285.1,305.0 282.7,303.2 285.8,303.1"/></g>
<g fill="#ff0000"><polygon points="296.6,300.1 297.7,302.7 300.8,302.9 298.4,304.6 299.2,307.3 296.6,305.8 294.1,307.3 294.9,304.6 292.5,302.9 295.6,302.7"/></g>
<g fill="#ff0000"><polygon points="306.4,299.8 307.5,302.4 310.6,302.6 308.2,304.3 309.0,307.0 306.4,305.5 303.8,307.0 304.6,304.3 302.2,302.6 305.3,302.4"/></g>
<g fill="#ff0000"><polygon points="316.1,299.5 317.2,302.2 320.3,302.3 317.9,304.1 318.7,306.8 316.1,305.2 313.5,306.8 314.3,304.1 311.9,302.3 315.0,302.2"/></g>
<g fill="#ff0000"><polygon points="325.8,299.3 326.9,301.9 330.0,302.1 327.6,303.8 328.4,306.5 325.8,305.0 323.2,306.5 324.0,303.8 321.6,302.1 324.7,301.9"/></g>
<g fill="#ff0000"><polygon points="335.6,299.1 336.6,301.7 339.7,301.9 337.3,303.6 338.1,306.3 335.6,304.8 333.0,306.3 333.8,303.6 331.4,301.9 334.5,301.7"/></g>
<g fill="#ff0000"><polygon points="345.3,298.9 346.4,301.5 349.5,301.7 347.1,303.4 347.9,306.1 345.3,304.6 342.7,306.1 343.5,303.4 341.1,301.7 344.2,301.5"/></g>
<g fill="#ff0000"><polygon points="355.0,298.7 356.1,301.4 359.2,301.5 356.8,303.3 357.6,306.0 355.0,304.4 352.4,306.0 353.2,303.3 350.8,301.5 353.9,301.4"/></g>
<g fill="#ff0000"><polygon points="364.7,298.6 365.8,301.2 368.9,301.3 366.5,303.1 367.3,305.8 364.7,304.3 362.1,305.8 362.9,303.1 360.5,301.3 363.6,301.2"/></g>
<g fill="#ff0000"><polygon points="374.4,298.4 375.5,301.0 378.6,301.2 376.2,302.9 377.0,305.7 374.4,304.1 371.9,305.7 372.7,302.9 370.3,301.2 373.4,301.0"/></g>
<g fill="#ff0000"><polygon points="384.2,298.3 385.3,300.9 388.4,301.0 386.0,302.8 386.8,305.5 384.2,304.0 381.6,305.5 382.4,302.8 380.0,301.0 383.1,300.9"/></g>
<g fill="#ff0000"><polygon points="393.9,298.1 395.0,300.7 398.1,300.9 395.7,302.6 396.5,305.3 393.9,303.8 391.3,305.3 392.1,302.6 389.7,300.9 392.8,300.7"/></g>
<g fill="#ff0000"><polygon points="403.6,298.0 404.7,300.6 407.8,300.7 405.4,302.5 406.2,305.2 403.6,303.7 401.0,305.2 401.8,302.5 399.4,300.7 402.5,300.6"/></g>
<g fill="#ff0000"><polygon points="413.4,297.8 414.4,300.4 417.5,300.6 415.1,302.3 415.9,305.0 413.4,303.5 410.8,305.0 411.6,302.3 409.2,300.6 412.3,300.4"/></g>
<g fill="#ff0000"><polygon points="423.1,297.7 424.2,300.3 427.3,300.4 424.9,302.2 425.7,304.9 423.1,303.4 420.5,304.9 421.3,302.2 418.9,300.4 422.0,300.3"/></g>
</g>
<path d="M43.3,148.6V434.8" stroke="#111" stroke-width="1.4"/>
<path d="M42.599999999999994,149.2H427.2" stroke="#111" stroke-width="1.2"/>
<path d="M426.7,149.2V434.8" stroke="#111" stroke-width="1.05"/>
<path d="M43.3,434.3H427.2" stroke="#111" stroke-width="1.0"/>
<path d="M43.3,291.8H426.7" stroke="#111" stroke-width="1.3"/>
<g font-family="Liberation Sans, sans-serif" fill="#000" stroke="#000" stroke-width="0.08" text-rendering="geometricPrecision" style="filter:grayscale(1)">
<text x="24.6" y="281.9" font-size="8.2" text-anchor="start" textLength="14.2" lengthAdjust="spacingAndGlyphs" >3.5</text>
<text x="24.6" y="257.4" font-size="8.2" text-anchor="start" textLength="14.2" lengthAdjust="spacingAndGlyphs" >4.0</text>
<text x="24.6" y="232.9" font-size="8.2" text-anchor="start" textLength="14.2" lengthAdjust="spacingAndGlyphs" >4.5</text>
<text x="24.6" y="208.4" font-size="8.2" text-anchor="start" textLength="14.2" lengthAdjust="spacingAndGlyphs" >5.0</text>
<text x="24.6" y="183.9" font-size="8.2" text-anchor="start" textLength="14.2" lengthAdjust="spacingAndGlyphs" >5.5</text>
<text x="24.6" y="159.4" font-size="8.2" text-anchor="start" textLength="14.2" lengthAdjust="spacingAndGlyphs" >6.0</text>
<text x="33.7" y="435.8" font-size="8.2" text-anchor="start" textLength="4.9" lengthAdjust="spacingAndGlyphs" >0</text>
<text x="33.7" y="420.1" font-size="8.2" text-anchor="start" textLength="4.9" lengthAdjust="spacingAndGlyphs" >2</text>
<text x="33.7" y="404.4" font-size="8.2" text-anchor="start" textLength="4.9" lengthAdjust="spacingAndGlyphs" >4</text>
<text x="33.7" y="388.7" font-size="8.2" text-anchor="start" textLength="4.9" lengthAdjust="spacingAndGlyphs" >6</text>
<text x="33.7" y="373.0" font-size="8.2" text-anchor="start" textLength="4.9" lengthAdjust="spacingAndGlyphs" >8</text>
<text x="27.7" y="357.3" font-size="8.2" text-anchor="start" textLength="10.9" lengthAdjust="spacingAndGlyphs" >10</text>
<text x="27.7" y="341.6" font-size="8.2" text-anchor="start" textLength="10.9" lengthAdjust="spacingAndGlyphs" >12</text>
<text x="27.7" y="325.9" font-size="8.2" text-anchor="start" textLength="10.9" lengthAdjust="spacingAndGlyphs" >14</text>
<text x="27.7" y="310.2" font-size="8.2" text-anchor="start" textLength="10.9" lengthAdjust="spacingAndGlyphs" >16</text>
<text x="40.9" y="445.0" font-size="8.2" text-anchor="start" textLength="5.4" lengthAdjust="spacingAndGlyphs" >0</text>
<text x="97.6" y="445.0" font-size="8.2" text-anchor="start" textLength="5.4" lengthAdjust="spacingAndGlyphs" >2</text>
<text x="154.3" y="445.0" font-size="8.2" text-anchor="start" textLength="5.4" lengthAdjust="spacingAndGlyphs" >4</text>
<text x="211.0" y="445.0" font-size="8.2" text-anchor="start" textLength="5.4" lengthAdjust="spacingAndGlyphs" >6</text>
<text x="267.7" y="445.0" font-size="8.2" text-anchor="start" textLength="5.4" lengthAdjust="spacingAndGlyphs" >8</text>
<text x="321.7" y="445.0" font-size="8.2" text-anchor="start" textLength="10.9" lengthAdjust="spacingAndGlyphs" >10</text>
<text x="378.4" y="445.0" font-size="8.2" text-anchor="start" textLength="10.9" lengthAdjust="spacingAndGlyphs" >12</text>
<text x="318.0" y="176.3" font-size="17" text-anchor="start" textLength="98.0" lengthAdjust="spacingAndGlyphs" >d=20.5nm</text>
<text x="49.2" y="204.6" font-size="20.5" text-anchor="start" textLength="34.2" lengthAdjust="spacingAndGlyphs" >(a)</text>
<text x="49.2" y="330.5" font-size="20.5" text-anchor="start" textLength="34.6" lengthAdjust="spacingAndGlyphs" >(b)</text>
<text x="297.6" y="218.2" font-size="11.8" text-anchor="start" textLength="68.2" lengthAdjust="spacingAndGlyphs" >IR=0.5&#956;A</text>
<text x="297.8" y="233.3" font-size="11.8" text-anchor="start" textLength="38.4" lengthAdjust="spacingAndGlyphs" >no IR</text>
<text x="297.8" y="248.4" font-size="11.8" text-anchor="start" textLength="107.4" lengthAdjust="spacingAndGlyphs" >no IR; T=5.47K</text>
<text x="291.4" y="390.6" font-size="11.8" text-anchor="start" textLength="39.0" lengthAdjust="spacingAndGlyphs" >no IR</text>
<text x="291.0" y="407.2" font-size="11.8" text-anchor="start" textLength="68.4" lengthAdjust="spacingAndGlyphs" >IR=0.5&#956;A</text>
<text x="291.4" y="422.3" font-size="11.8" text-anchor="start" textLength="108.8" lengthAdjust="spacingAndGlyphs" >no IR; T=5.47K</text>
<text x="212" y="463.2" font-size="13.2" text-anchor="start" textLength="11.5" lengthAdjust="spacingAndGlyphs" >V</text>
<text x="223.6" y="466.0" font-size="10.6" text-anchor="start" textLength="7.0" lengthAdjust="spacingAndGlyphs" >g</text>
<text x="235.4" y="463.2" font-size="13.2" text-anchor="start" textLength="24.6" lengthAdjust="spacingAndGlyphs" >(V)</text>
<text transform="translate(20.9,390.7) scale(1.3,1) rotate(-90)" font-size="12.4" textLength="55.3" lengthAdjust="spacingAndGlyphs">&#948;G/G (%)</text>
<text transform="translate(18.3,252.2) scale(1.3,1) rotate(-90)" font-size="12.4" textLength="64.6" lengthAdjust="spacingAndGlyphs">G (x10<tspan font-size="8.4" dy="-5.8">-8</tspan><tspan dy="5.8">&#937;</tspan><tspan font-size="8.4" dy="-5.8">-1</tspan><tspan dy="5.8">)</tspan></text>
</g>
<path d="M255.7,213.8H293.5" stroke="#000" stroke-width="2.0"/><ellipse cx="274.6" cy="213.8" rx="2.1" ry="1.9" fill="#ffee00" stroke="#000" stroke-width="1.1"/>
<path d="M255.7,228.8H293.5" stroke="#0000ff" stroke-width="2.0"/><rect x="272.5" y="227.1" width="4.2" height="3.4" fill="#00e5ff" stroke="#0000ff" stroke-width="1"/>
<path d="M255.7,243.9H293.5" stroke="#ff0000" stroke-width="2.0"/><g fill="#ff0000"><polygon points="274.6,240.3 275.6,242.6 278.4,242.8 276.3,244.4 276.9,246.8 274.6,245.5 272.3,246.8 272.9,244.4 270.8,242.8 273.6,242.6"/></g>
<path d="M249.7,386.4H287.5" stroke="#0000ff" stroke-width="2.0"/><rect x="266.5" y="384.7" width="4.2" height="3.4" fill="#00e5ff" stroke="#0000ff" stroke-width="1"/>
<path d="M249.7,403.0H287.5" stroke="#000" stroke-width="2.0"/><ellipse cx="268.6" cy="403.0" rx="2.1" ry="1.9" fill="#ffee00" stroke="#000" stroke-width="1.1"/>
<path d="M249.7,418.0H287.5" stroke="#ff0000" stroke-width="2.0"/><g fill="#ff0000"><polygon points="268.6,414.4 269.6,416.7 272.4,416.9 270.3,418.5 270.9,420.9 268.6,419.6 266.3,420.9 266.9,418.5 264.8,416.9 267.6,416.7"/></g>
</svg>
</body></html>
